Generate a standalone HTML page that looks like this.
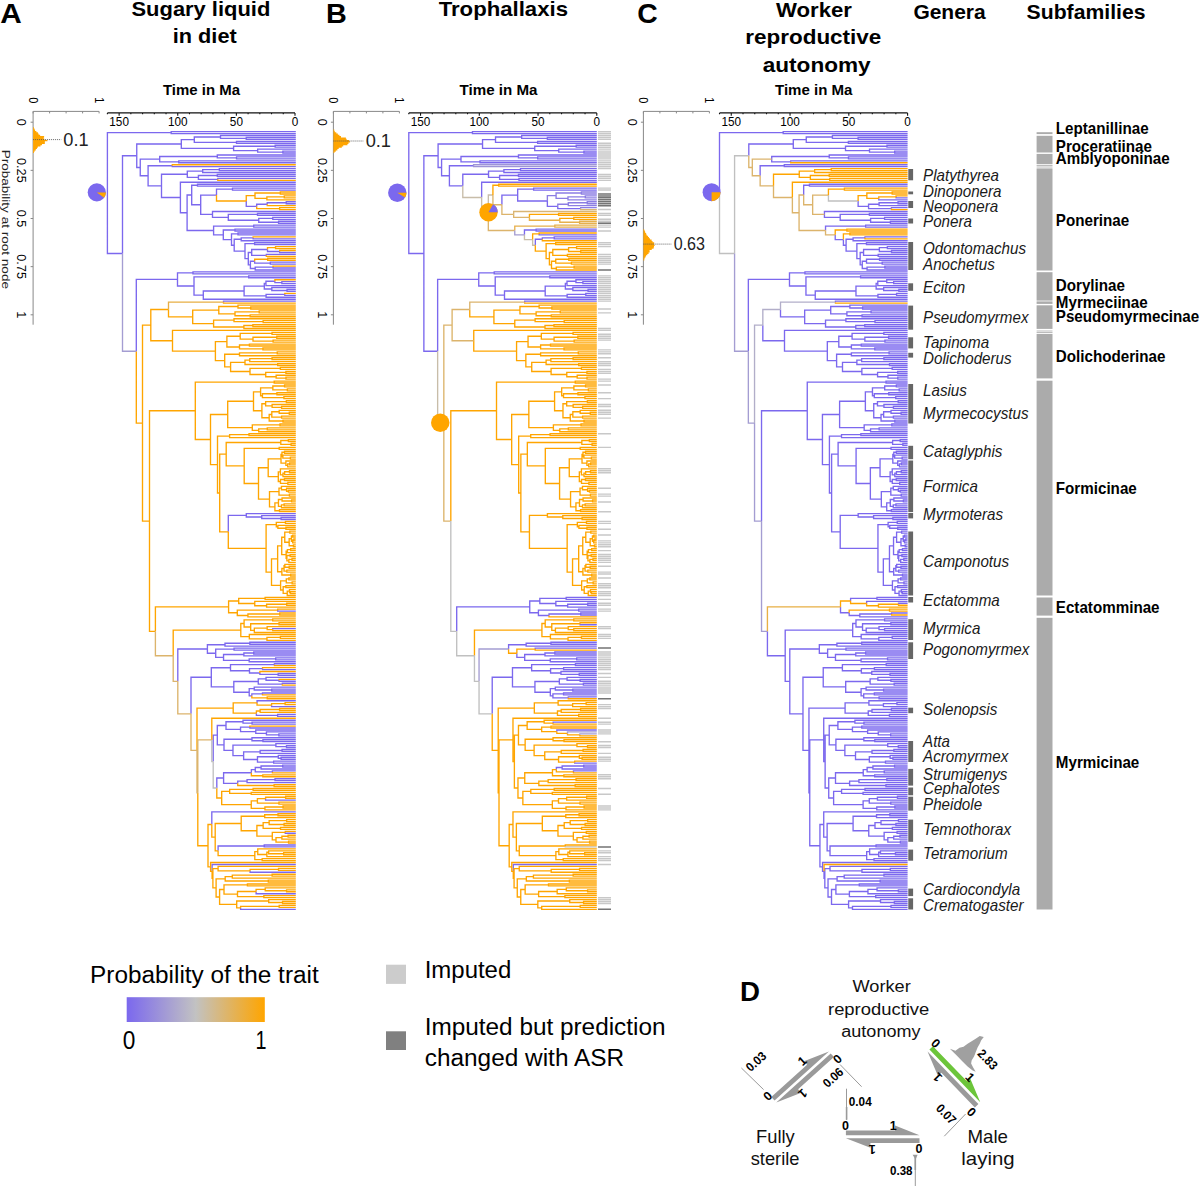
<!DOCTYPE html>
<html><head><meta charset="utf-8"><title>Figure</title>
<style>html,body{margin:0;padding:0;background:#fff;}svg{display:block;}text{font-family:"Liberation Sans",sans-serif;}</style>
</head><body>
<svg width="1200" height="1186" viewBox="0 0 1200 1186">
<rect width="1200" height="1186" fill="#fff"/>
<g font-family="Liberation Sans, sans-serif">
<text x="0.3" y="23" font-size="28.5" font-weight="bold" textLength="21.5" lengthAdjust="spacingAndGlyphs">A</text>
<text x="325.9" y="23" font-size="28.5" font-weight="bold" textLength="20.8" lengthAdjust="spacingAndGlyphs">B</text>
<text x="637.3" y="23" font-size="28.5" font-weight="bold" textLength="20.5" lengthAdjust="spacingAndGlyphs">C</text>
<text x="131.5" y="16.1" font-size="20.5" font-weight="bold" textLength="138.8" lengthAdjust="spacingAndGlyphs">Sugary liquid</text>
<text x="172.8" y="43.3" font-size="20.5" font-weight="bold" textLength="63.9" lengthAdjust="spacingAndGlyphs">in diet</text>
<text x="438.7" y="16.3" font-size="20.5" font-weight="bold" textLength="129.3" lengthAdjust="spacingAndGlyphs">Trophallaxis</text>
<text x="776" y="16.5" font-size="20.5" font-weight="bold" textLength="76" lengthAdjust="spacingAndGlyphs">Worker</text>
<text x="745.3" y="44" font-size="20.5" font-weight="bold" textLength="136" lengthAdjust="spacingAndGlyphs">reproductive</text>
<text x="762.7" y="71.5" font-size="20.5" font-weight="bold" textLength="108" lengthAdjust="spacingAndGlyphs">autonomy</text>
<text x="913.4" y="19.2" font-size="20.5" font-weight="bold" textLength="72.3" lengthAdjust="spacingAndGlyphs">Genera</text>
<text x="1026.6" y="19.2" font-size="20.5" font-weight="bold" textLength="118.9" lengthAdjust="spacingAndGlyphs">Subfamilies</text>
<path stroke="#111" stroke-width="1.2" fill="none" d="M107.4 112.9H295"/>
<path stroke="#111" stroke-width="1.1" fill="none" d="M295 112.9v2.8M283.27 112.9v1.4M271.55 112.9v1.4M259.82 112.9v1.4M248.1 112.9v1.4M236.38 112.9v2.8M224.65 112.9v1.4M212.93 112.9v1.4M201.2 112.9v1.4M189.48 112.9v1.4M177.75 112.9v2.8M166.03 112.9v1.4M154.3 112.9v1.4M142.58 112.9v1.4M130.85 112.9v1.4M119.13 112.9v2.8M107.4 112.9v1.4"/>
<text x="119.13" y="126.2" font-size="12.8" text-anchor="middle" textLength="19.65" lengthAdjust="spacingAndGlyphs">150</text>
<text x="177.75" y="126.2" font-size="12.8" text-anchor="middle" textLength="19.65" lengthAdjust="spacingAndGlyphs">100</text>
<text x="236.38" y="126.2" font-size="12.8" text-anchor="middle" textLength="13.1" lengthAdjust="spacingAndGlyphs">50</text>
<text x="295" y="126.2" font-size="12.8" text-anchor="middle" textLength="6.55" lengthAdjust="spacingAndGlyphs">0</text>
<text x="163" y="95.3" font-size="15.2" font-weight="bold" textLength="77" lengthAdjust="spacingAndGlyphs">Time in Ma</text>
<path stroke="#111" stroke-width="1.2" fill="none" d="M408.8 112.9H596.8"/>
<path stroke="#111" stroke-width="1.1" fill="none" d="M596.8 112.9v2.8M585.05 112.9v1.4M573.3 112.9v1.4M561.55 112.9v1.4M549.8 112.9v1.4M538.05 112.9v2.8M526.3 112.9v1.4M514.55 112.9v1.4M502.8 112.9v1.4M491.05 112.9v1.4M479.3 112.9v2.8M467.55 112.9v1.4M455.8 112.9v1.4M444.05 112.9v1.4M432.3 112.9v1.4M420.55 112.9v2.8M408.8 112.9v1.4"/>
<text x="420.55" y="126.2" font-size="12.8" text-anchor="middle" textLength="19.65" lengthAdjust="spacingAndGlyphs">150</text>
<text x="479.3" y="126.2" font-size="12.8" text-anchor="middle" textLength="19.65" lengthAdjust="spacingAndGlyphs">100</text>
<text x="538.05" y="126.2" font-size="12.8" text-anchor="middle" textLength="13.1" lengthAdjust="spacingAndGlyphs">50</text>
<text x="596.8" y="126.2" font-size="12.8" text-anchor="middle" textLength="6.55" lengthAdjust="spacingAndGlyphs">0</text>
<text x="459.5" y="95.3" font-size="15.2" font-weight="bold" textLength="78" lengthAdjust="spacingAndGlyphs">Time in Ma</text>
<path stroke="#111" stroke-width="1.2" fill="none" d="M719.5 112.9H907.6"/>
<path stroke="#111" stroke-width="1.1" fill="none" d="M907.6 112.9v2.8M895.84 112.9v1.4M884.09 112.9v1.4M872.33 112.9v1.4M860.58 112.9v1.4M848.82 112.9v2.8M837.06 112.9v1.4M825.31 112.9v1.4M813.55 112.9v1.4M801.79 112.9v1.4M790.04 112.9v2.8M778.28 112.9v1.4M766.52 112.9v1.4M754.77 112.9v1.4M743.01 112.9v1.4M731.26 112.9v2.8M719.5 112.9v1.4"/>
<text x="731.26" y="126.2" font-size="12.8" text-anchor="middle" textLength="19.65" lengthAdjust="spacingAndGlyphs">150</text>
<text x="790.04" y="126.2" font-size="12.8" text-anchor="middle" textLength="19.65" lengthAdjust="spacingAndGlyphs">100</text>
<text x="848.82" y="126.2" font-size="12.8" text-anchor="middle" textLength="13.1" lengthAdjust="spacingAndGlyphs">50</text>
<text x="907.6" y="126.2" font-size="12.8" text-anchor="middle" textLength="6.55" lengthAdjust="spacingAndGlyphs">0</text>
<text x="775" y="95.3" font-size="15.2" font-weight="bold" textLength="77.5" lengthAdjust="spacingAndGlyphs">Time in Ma</text>
<path stroke="#888" stroke-width="1" fill="none" d="M33.1 111.4H99.1M33.1 111.4V324.7"/>
<path stroke="#888" stroke-width="1" fill="none" d="M33.1 111.4v2M49.6 111.4v2M66.1 111.4v2M82.6 111.4v2M99.1 111.4v2M33.1 122.2h-2.5M33.1 170.35h-2.5M33.1 218.5h-2.5M33.1 266.65h-2.5M33.1 314.8h-2.5"/>
<text x="17.4" y="122.2" font-size="13" text-anchor="middle" textLength="7.08" lengthAdjust="spacingAndGlyphs" transform="rotate(90 17.4 122.2)">0</text>
<text x="17.4" y="170.35" font-size="13" text-anchor="middle" textLength="24.79" lengthAdjust="spacingAndGlyphs" transform="rotate(90 17.4 170.35)">0.25</text>
<text x="17.4" y="218.5" font-size="13" text-anchor="middle" textLength="17.71" lengthAdjust="spacingAndGlyphs" transform="rotate(90 17.4 218.5)">0.5</text>
<text x="17.4" y="266.65" font-size="13" text-anchor="middle" textLength="24.79" lengthAdjust="spacingAndGlyphs" transform="rotate(90 17.4 266.65)">0.75</text>
<text x="17.4" y="314.8" font-size="13" text-anchor="middle" textLength="7.08" lengthAdjust="spacingAndGlyphs" transform="rotate(90 17.4 314.8)">1</text>
<text x="28.8" y="100.3" font-size="13" text-anchor="middle" textLength="6.14" lengthAdjust="spacingAndGlyphs" transform="rotate(90 28.8 100.3)">0</text>
<text x="94.8" y="100.3" font-size="13" text-anchor="middle" textLength="6.14" lengthAdjust="spacingAndGlyphs" transform="rotate(90 94.8 100.3)">1</text>
<path fill="#FFA500" d="M33.1 127h0.65v1.3h-0.65zM33.1 128.3h1.25v1.3h-1.25zM33.1 129.6h1.96v1.3h-1.96zM33.1 130.9h3.27v1.3h-3.27zM33.1 132.2h4.8v1.3h-4.8zM33.1 133.5h5.53v1.3h-5.53zM33.1 134.8h7.03v1.3h-7.03zM33.1 136.1h11.02v1.3h-11.02zM33.1 137.4h10.62v1.3h-10.62zM33.1 138.7h11.34v1.3h-11.34zM33.1 140h14.32v1.3h-14.32zM33.1 141.3h11.76v1.3h-11.76zM33.1 142.6h11.69v1.3h-11.69zM33.1 143.9h8.87v1.3h-8.87zM33.1 145.2h7.37v1.3h-7.37zM33.1 146.5h4.72v1.3h-4.72zM33.1 147.8h3.84v1.3h-3.84zM33.1 149.1h2.7v1.3h-2.7zM33.1 150.4h1.52v1.3h-1.52zM33.1 151.7h0.94v1.3h-0.94z"/>
<path stroke="#555" stroke-width="0.9" stroke-dasharray="1 1" d="M33.1 139.6H61.3"/>
<text x="63.3" y="145.9" font-size="17.5" textLength="25.3" lengthAdjust="spacingAndGlyphs" fill="#222">0.1</text>
<path stroke="#888" stroke-width="1" fill="none" d="M333.4 111.4H399.4M333.4 111.4V324.7"/>
<path stroke="#888" stroke-width="1" fill="none" d="M333.4 111.4v2M349.9 111.4v2M366.4 111.4v2M382.9 111.4v2M399.4 111.4v2M333.4 122.2h-2.5M333.4 170.35h-2.5M333.4 218.5h-2.5M333.4 266.65h-2.5M333.4 314.8h-2.5"/>
<text x="317.7" y="122.2" font-size="13" text-anchor="middle" textLength="7.08" lengthAdjust="spacingAndGlyphs" transform="rotate(90 317.7 122.2)">0</text>
<text x="317.7" y="170.35" font-size="13" text-anchor="middle" textLength="24.79" lengthAdjust="spacingAndGlyphs" transform="rotate(90 317.7 170.35)">0.25</text>
<text x="317.7" y="218.5" font-size="13" text-anchor="middle" textLength="17.71" lengthAdjust="spacingAndGlyphs" transform="rotate(90 317.7 218.5)">0.5</text>
<text x="317.7" y="266.65" font-size="13" text-anchor="middle" textLength="24.79" lengthAdjust="spacingAndGlyphs" transform="rotate(90 317.7 266.65)">0.75</text>
<text x="317.7" y="314.8" font-size="13" text-anchor="middle" textLength="7.08" lengthAdjust="spacingAndGlyphs" transform="rotate(90 317.7 314.8)">1</text>
<text x="329.1" y="100.3" font-size="13" text-anchor="middle" textLength="6.14" lengthAdjust="spacingAndGlyphs" transform="rotate(90 329.1 100.3)">0</text>
<text x="395.1" y="100.3" font-size="13" text-anchor="middle" textLength="6.14" lengthAdjust="spacingAndGlyphs" transform="rotate(90 395.1 100.3)">1</text>
<path fill="#FFA500" d="M333.4 129.6h0.89v1.3h-0.89zM333.4 130.9h1.36v1.3h-1.36zM333.4 132.2h2.91v1.3h-2.91zM333.4 133.5h4.43v1.3h-4.43zM333.4 134.8h6.02v1.3h-6.02zM333.4 136.1h7.57v1.3h-7.57zM333.4 137.4h12.49v1.3h-12.49zM333.4 138.7h13.23v1.3h-13.23zM333.4 140h15.63v1.3h-15.63zM333.4 141.3h16.67v1.3h-16.67zM333.4 142.6h15.08v1.3h-15.08zM333.4 143.9h14.02v1.3h-14.02zM333.4 145.2h9.83v1.3h-9.83zM333.4 146.5h8.37v1.3h-8.37zM333.4 147.8h5.29v1.3h-5.29zM333.4 149.1h3.96v1.3h-3.96zM333.4 150.4h2.36v1.3h-2.36zM333.4 151.7h1.04v1.3h-1.04z"/>
<path stroke="#555" stroke-width="0.9" stroke-dasharray="1 1" d="M333.4 141H363.7"/>
<text x="365.7" y="147.3" font-size="17.5" textLength="25.3" lengthAdjust="spacingAndGlyphs" fill="#222">0.1</text>
<path stroke="#888" stroke-width="1" fill="none" d="M643.4 111.4H709.4M643.4 111.4V324.7"/>
<path stroke="#888" stroke-width="1" fill="none" d="M643.4 111.4v2M659.9 111.4v2M676.4 111.4v2M692.9 111.4v2M709.4 111.4v2M643.4 122.2h-2.5M643.4 170.35h-2.5M643.4 218.5h-2.5M643.4 266.65h-2.5M643.4 314.8h-2.5"/>
<text x="627.7" y="122.2" font-size="13" text-anchor="middle" textLength="7.08" lengthAdjust="spacingAndGlyphs" transform="rotate(90 627.7 122.2)">0</text>
<text x="627.7" y="170.35" font-size="13" text-anchor="middle" textLength="24.79" lengthAdjust="spacingAndGlyphs" transform="rotate(90 627.7 170.35)">0.25</text>
<text x="627.7" y="218.5" font-size="13" text-anchor="middle" textLength="17.71" lengthAdjust="spacingAndGlyphs" transform="rotate(90 627.7 218.5)">0.5</text>
<text x="627.7" y="266.65" font-size="13" text-anchor="middle" textLength="24.79" lengthAdjust="spacingAndGlyphs" transform="rotate(90 627.7 266.65)">0.75</text>
<text x="627.7" y="314.8" font-size="13" text-anchor="middle" textLength="7.08" lengthAdjust="spacingAndGlyphs" transform="rotate(90 627.7 314.8)">1</text>
<text x="639.1" y="100.3" font-size="13" text-anchor="middle" textLength="6.14" lengthAdjust="spacingAndGlyphs" transform="rotate(90 639.1 100.3)">0</text>
<text x="705.1" y="100.3" font-size="13" text-anchor="middle" textLength="6.14" lengthAdjust="spacingAndGlyphs" transform="rotate(90 705.1 100.3)">1</text>
<path fill="#FFA500" d="M643.4 229.2h0.8v1.3h-0.8zM643.4 230.5h1.5v1.3h-1.5zM643.4 231.8h1.86v1.3h-1.86zM643.4 233.1h2.75v1.3h-2.75zM643.4 234.4h3.35v1.3h-3.35zM643.4 235.7h4.62v1.3h-4.62zM643.4 237h5.55v1.3h-5.55zM643.4 238.3h6.6v1.3h-6.6zM643.4 239.6h8.21v1.3h-8.21zM643.4 240.9h9.16v1.3h-9.16zM643.4 242.2h10.78v1.3h-10.78zM643.4 243.5h10.5v1.3h-10.5zM643.4 244.8h11.23v1.3h-11.23zM643.4 246.1h10.59v1.3h-10.59zM643.4 247.4h10.18v1.3h-10.18zM643.4 248.7h8.34v1.3h-8.34zM643.4 250h6.14v1.3h-6.14zM643.4 251.3h6.27v1.3h-6.27zM643.4 252.6h5.16v1.3h-5.16zM643.4 253.9h3.91v1.3h-3.91zM643.4 255.2h2.64v1.3h-2.64zM643.4 256.5h1.97v1.3h-1.97zM643.4 257.8h1.16v1.3h-1.16zM643.4 259.1h0.93v1.3h-0.93z"/>
<path stroke="#555" stroke-width="0.9" stroke-dasharray="1 1" d="M643.4 244.1H671.7"/>
<text x="673.7" y="250.4" font-size="17.5" textLength="31.3" lengthAdjust="spacingAndGlyphs" fill="#222">0.63</text>
<text x="2.3" y="219.3" font-size="11.2" text-anchor="middle" textLength="139.3" lengthAdjust="spacingAndGlyphs" fill="#222" transform="rotate(90 2.3 219.3)">Probability at root node</text>
<filter id="tb" filterUnits="userSpaceOnUse" x="90" y="100" width="840" height="830"><feGaussianBlur stdDeviation="0.4"/></filter>
<g fill="none" stroke-width="1.35" stroke-linejoin="miter" filter="url(#tb)">
<path stroke="#7b68ee" d="M107.4 193.04V132.57H171.2M171.2 132.57V131.6H295.8M171.2 132.57V133.55H295.8M107.4 193.04V253.5H122.5M122.5 253.5V155.74H136.75M136.75 155.74V144.03H181.3M181.3 144.03V139.64H194.3M194.3 139.64V136.96H220.5M220.5 136.96V135.5H295.8M220.5 136.96V138.42H246.25M246.25 138.42V137.45H295.8M246.25 138.42V139.4H295.8M194.3 139.64V142.32H236.5M236.5 142.32V141.35H295.8M236.5 142.32V143.29H295.8M181.3 144.03V148.41H233.6M233.6 148.41V146.22H275.16M275.16 146.22V145.24H295.8M275.16 146.22V147.19H295.8M233.6 148.41V150.6H257.66M257.66 150.6V149.14H295.8M257.66 150.6V152.07H282.89M282.89 152.07V151.09H295.8M282.89 152.07V153.04H295.8M136.75 155.74V167.46H140.25M140.25 167.46V159.13H159.7M159.7 159.13V156.45H217.3M217.3 156.45V154.99H295.8M217.3 156.45V157.91H236.55M236.55 157.91V156.94H295.8M236.55 157.91V158.89H295.8M159.7 159.13V161.81H178.75M178.75 161.81V160.84H295.8M178.75 161.81V162.79H295.8M140.25 167.46V175.79H148.1M148.1 175.79V165.71H172.3M172.3 165.71V166.68H295.8M148.1 175.79V185.87H161.5M161.5 185.87V174.24H187.3M187.3 174.24V171.07H202.7M202.7 171.07V169.61H219.34M219.34 169.61V168.63H295.8M219.34 169.61V170.58H295.8M202.7 171.07V172.53H295.8M187.3 174.24V177.4H198.4M198.4 177.4V175.46H217.3M217.3 175.46V174.48H295.8M217.3 175.46V176.43H295.8M198.4 177.4V179.35H217.8M217.8 179.35V178.38H295.8M161.5 185.87V197.5H180.4M180.4 197.5V182.28H295.8M180.4 197.5V212.72H187.1M187.1 212.72V194.98H191.7M191.7 194.98V185.2H197.5M197.5 185.2V184.23H295.8M197.5 185.2V186.18H295.8M191.7 194.98V204.75H200.7M200.7 204.75V195.07H216.5M216.5 195.07V189.1H232.5M232.5 189.1V188.12H295.8M232.5 189.1V190.07H295.8M246.25 201.04V206.4H256.7M256.7 206.4V204.2H267.24M267.24 204.2V202.74H286.25M286.25 202.74V201.77H295.8M286.25 202.74V203.72H295.8M200.7 204.75V214.44H212.5M212.5 214.44V211.51H295.8M212.5 214.44V217.36H228.3M228.3 217.36V214.44H257.5M257.5 214.44V213.46H295.8M257.5 214.44V215.41H295.8M228.3 217.36V220.29H258.75M258.75 220.29V218.34H272.75M272.75 218.34V217.36H295.8M272.75 218.34V219.31H295.8M258.75 220.29V222.23H278.58M278.58 222.23V221.26H295.8M278.58 222.23V223.21H295.8M187.1 212.72V230.47H213.6M213.6 230.47V226.13H253.75M253.75 226.13V225.16H295.8M253.75 226.13V227.11H295.8M213.6 230.47V234.8H223.3M223.3 234.8V230.03H235M235 230.03V229.06H295.8M235 230.03V231.01H295.8M223.3 234.8V239.58H231.5M231.5 239.58V233.93H238M238 233.93V232.95H295.8M238 233.93V234.9H295.8M231.5 239.58V245.23H234.2M234.2 245.23V239.29H241.2M241.2 239.29V237.83H253.14M253.14 237.83V238.8H295.8M241.2 239.29V240.75H295.8M234.2 245.23V251.17H245M245 251.17V243.67H254.6M254.6 243.67V242.7H295.8M254.6 243.67V244.65H295.8M245 251.17V258.66H248.3M248.3 258.66V252.45H251.7M251.7 252.45V249.52H267.52M267.52 249.52V251.47H279.71M279.71 251.47V252.45H295.8M251.7 252.45V255.37H266.36M266.36 255.37V254.39H295.8M248.3 258.66V264.87H250.4M250.4 264.87V261.22H254.65M254.65 261.22V263.17H270.33M270.33 263.17V262.19H295.8M270.33 263.17V264.14H295.8M250.4 264.87V268.53H255.21M255.21 268.53V267.06H273.04M273.04 267.06V268.04H295.8M255.21 268.53V269.99H295.8M136.3 351.27V279.44H177.5M177.5 279.44V272.91H193M193 272.91V271.94H295.8M193 272.91V273.89H295.8M177.5 279.44V285.96H194M194 285.96V276.81H248.7M248.7 276.81V275.84H295.8M248.7 276.81V277.78H295.8M194 285.96V295.11H203.3M203.3 295.11V291H244.1M244.1 291V286.19H264.3M264.3 286.19V283.39H265.95M265.95 283.39V281.2H274.92M274.92 281.2V282.66H281.86M281.86 282.66V281.68H295.8M281.86 282.66V283.63H295.8M265.95 283.39V285.58H295.8M264.3 286.19V288.99H271.81M271.81 288.99V287.53H295.8M271.81 288.99V290.45H287.06M287.06 290.45V289.48H295.8M287.06 290.45V291.43H295.8M244.1 291V295.81H266.1M266.1 295.81V294.35H284.78M284.78 294.35V295.33H295.8M266.1 295.81V297.28H295.8M203.3 295.11V299.22H295.8M223.5 302.15V301.17H295.8M228.3 531.85V515.33H246.3M246.3 515.33V513.63H295.8M246.3 515.33V517.04H261.74M261.74 517.04V515.58H295.8M261.74 517.04V518.5H281.07M281.07 518.5V517.53H295.8M281.07 518.5V519.48H295.8M277.67 610.11V611.08H295.8M272.74 629.6V628.63H295.8M177.8 681.42V648.97H207.4M207.4 648.97V644.71H225M225 644.71V643.24H249.85M249.85 643.24V642.27H295.8M249.85 643.24V644.22H295.8M225 644.71V646.17H295.8M207.4 648.97V653.23H215.7M215.7 653.23V649.09H234.05M234.05 649.09V648.12H295.8M234.05 649.09V650.07H295.8M215.7 653.23V657.38H223.55M223.55 657.38V654.45H243.88M243.88 654.45V652.99H253.76M253.76 652.99V652.02H295.8M253.76 652.99V653.96H295.8M243.88 654.45V655.91H295.8M223.55 657.38V660.3H249.18M249.18 660.3V658.84H275.7M275.7 658.84V657.86H295.8M275.7 658.84V659.81H295.8M249.18 660.3V661.76H295.8M191 713.87V677.29H211.3M211.3 677.29V667.73H230.5M230.5 667.73V664.69H274.4M274.4 664.69V663.71H295.8M230.5 667.73V670.78H249.49M249.49 670.78V668.58H262.56M262.56 668.58V669.56H295.8M249.49 670.78V672.97H259.91M259.91 672.97V674.43H278.18M278.18 674.43V673.46H295.8M278.18 674.43V675.41H295.8M211.3 677.29V686.86H233.8M233.8 686.86V681.5H258.27M258.27 681.5V678.82H266.04M266.04 678.82V677.35H295.8M266.04 678.82V680.28H279.1M279.1 680.28V681.25H295.8M258.27 681.5V684.18H282.35M282.35 684.18V683.2H295.8M233.8 686.86V692.22H249.22M249.22 692.22V688.56H254.25M254.25 688.56V687.1H295.8M254.25 688.56V690.02H271.75M271.75 690.02V689.05H295.8M271.75 690.02V691H295.8M249.22 692.22V695.87H251.84M251.84 695.87V693.92H262.49M262.49 693.92V692.95H295.8M257.05 702.94V700.74H295.8M271.59 705.13V706.59H295.8M256.39 713.17V715.36H277.62M277.62 715.36V714.39H295.8M277.62 715.36V716.34H295.8M213.2 761.6V735.17H217.3M217.3 735.17V725.53H226M226 725.53V721.7H243.03M243.03 721.7V720.24H295.8M243.03 721.7V723.16H252.05M252.05 723.16V722.18H295.8M252.05 723.16V724.13H295.8M226 725.53V729.37H240.55M240.55 729.37V727.06H249.88M249.88 727.06V728.03H295.8M240.55 729.37V731.69H255.76M255.76 731.69V729.98H295.8M255.76 731.69V733.39H266.43M266.43 733.39V731.93H295.8M266.43 733.39V734.85H278.87M278.87 734.85V733.88H295.8M278.87 734.85V735.83H295.8M217.3 735.17V744.81H224M224 744.81V739.24H251.97M251.97 739.24V737.78H295.8M251.97 739.24V740.7H262.95M262.95 740.7V739.73H295.8M262.95 740.7V741.68H295.8M224 744.81V750.39H232.97M232.97 750.39V745.09H275.9M275.9 745.09V743.62H295.8M275.9 745.09V746.55H286.5M286.5 746.55V745.57H295.8M286.5 746.55V747.52H295.8M232.97 750.39V755.68H243.63M243.63 755.68V751.91H260.16M260.16 751.91V750.45H282.07M282.07 750.45V749.47H295.8M282.07 750.45V751.42H295.8M260.16 751.91V753.37H295.8M243.63 755.68V759.46H257.48M257.48 759.46V756.78H278.33M278.33 756.78V755.32H295.8M278.33 756.78V758.24H281.1M281.1 758.24V757.27H295.8M281.1 758.24V759.22H295.8M257.48 759.46V762.14H273.64M273.64 762.14V761.17H295.8M273.64 762.14V763.12H295.8M216.8 788.03V778.04H223.6M223.6 778.04V772.74H251.37M251.37 772.74V769.69H255.28M255.28 769.69V767.5H261.08M261.08 767.5V766.04H282.72M282.72 766.04V765.06H295.8M282.72 766.04V767.01H295.8M261.08 767.5V768.96H295.8M255.28 769.69V771.89H272.4M272.4 771.89V770.91H295.8M223.6 778.04V783.34H237.72M237.72 783.34V781.15H247.07M247.07 781.15V779.68H275.02M275.02 779.68V778.71H295.8M275.02 779.68V780.66H295.8M247.07 781.15V782.61H295.8M265.57 798.69V800.15H295.8M211.8 824.5V811.84H295.8M285.27 832.31V833.28H295.8M218.1 850.8V845.95H264.2M264.2 845.95V844.98H295.8M264.2 845.95V846.93H295.8M212.1 871.36V864.47H295.8M250.1 870.8V872.27H295.8M256.1 891.51V893.71H295.8M240.6 907.84V909.3H295.8"/>
<path stroke="#ffa500" d="M172.3 165.71V164.74H295.8M217.8 179.35V180.33H295.8M216.5 195.07V201.04H246.25M246.25 201.04V195.68H255M255 195.68V193H280.32M280.32 193V192.02H295.8M280.32 193V193.97H295.8M255 195.68V198.36H266.91M266.91 198.36V196.9H284.26M284.26 196.9V195.92H295.8M284.26 196.9V197.87H295.8M266.91 198.36V199.82H295.8M267.24 204.2V205.67H295.8M256.7 206.4V208.59H279.64M279.64 208.59V207.62H295.8M279.64 208.59V209.56H295.8M253.14 237.83V236.85H295.8M267.52 249.52V247.57H275.54M275.54 247.57V246.6H295.8M275.54 247.57V248.55H295.8M279.71 251.47V250.5H295.8M266.36 255.37V256.34H295.8M254.65 261.22V259.27H267.72M267.72 259.27V258.29H295.8M267.72 259.27V260.24H295.8M273.04 267.06V266.09H295.8M274.92 281.2V279.73H295.8M284.78 294.35V293.38H295.8M136.3 351.27V423.09H142.5M142.5 423.09V325.14H150.8M150.8 325.14V309.52H168.5M223.5 302.15V303.12H295.8M168.5 309.52V316.89H192.7M192.7 316.89V310.19H218.8M218.8 310.19V306.53H238M238 306.53V305.07H295.8M238 306.53V308H250.76M250.76 308V307.02H295.8M250.76 308V308.97H295.8M218.8 310.19V313.84H235M235 313.84V311.89H259.19M259.19 311.89V310.92H295.8M259.19 311.89V312.87H295.8M235 313.84V315.79H250.16M250.16 315.79V314.82H295.8M250.16 315.79V316.77H295.8M192.7 316.89V323.59H213.6M213.6 323.59V320.18H234M234 320.18V318.72H295.8M234 320.18V321.64H263.14M263.14 321.64V320.66H295.8M263.14 321.64V322.61H295.8M213.6 323.59V327H243.9M243.9 327V325.54H252.89M252.89 325.54V324.56H295.8M252.89 325.54V326.51H295.8M243.9 327V328.46H295.8M150.8 325.14V340.76H172.5M172.5 340.76V330.41H295.8M172.5 340.76V351.1H215.4M215.4 351.1V341.62H226.9M226.9 341.62V336.26H240.2M240.2 336.26V333.33H272.03M272.03 333.33V332.36H295.8M272.03 333.33V334.31H295.8M240.2 336.26V339.18H253M253 339.18V337.23H276.78M276.78 337.23V336.26H295.8M276.78 337.23V338.21H295.8M253 339.18V341.13H273.1M273.1 341.13V340.16H295.8M273.1 341.13V342.11H295.8M226.9 341.62V346.98H239.5M239.5 346.98V345.03H249.4M249.4 345.03V344.05H295.8M249.4 345.03V346H295.8M239.5 346.98V348.93H262.95M262.95 348.93V347.95H295.8M262.95 348.93V349.9H295.8M215.4 351.1V360.59H224.7M224.7 360.59V354.29H239.5M239.5 354.29V352.83H277.24M277.24 352.83V351.85H295.8M277.24 352.83V353.8H295.8M239.5 354.29V355.75H295.8M224.7 360.59V366.9H230.6M230.6 366.9V362.33H245M245 362.33V360.13H249.77M249.77 360.13V358.67H272.06M272.06 358.67V357.7H295.8M272.06 358.67V359.65H295.8M249.77 360.13V361.6H295.8M245 362.33V364.52H277.67M277.67 364.52V363.55H295.8M277.67 364.52V365.49H295.8M230.6 366.9V371.46H250M250 371.46V368.42H280.36M280.36 368.42V367.44H295.8M280.36 368.42V369.39H295.8M250 371.46V374.51H265.72M265.72 374.51V372.32H285.91M285.91 372.32V371.34H295.8M285.91 372.32V373.29H295.8M265.72 374.51V376.7H276.16M276.16 376.7V375.24H295.8M276.16 376.7V378.16H285.98M285.98 378.16V377.19H295.8M285.98 378.16V379.14H295.8M142.5 423.09V521.05H149.5M149.5 521.05V410.79H195.3M195.3 410.79V382.06H274.2M274.2 382.06V381.09H295.8M274.2 382.06V383.04H295.8M195.3 410.79V439.52H210.5M210.5 439.52V414.45H227.7M227.7 414.45V401.28H253.5M253.5 401.28V391.81H260.6M260.6 391.81V387.91H272.85M272.85 387.91V385.96H284.53M284.53 385.96V384.99H295.8M284.53 385.96V386.94H295.8M272.85 387.91V389.86H287.36M287.36 389.86V388.88H295.8M287.36 389.86V390.83H295.8M260.6 391.81V395.71H262.44M262.44 395.71V393.76H276.92M276.92 393.76V392.78H295.8M276.92 393.76V394.73H295.8M262.44 395.71V397.66H283.92M283.92 397.66V396.68H295.8M283.92 397.66V398.63H295.8M253.5 401.28V410.75H261.9M261.9 410.75V403.75H265.63M265.63 403.75V401.55H286.36M286.36 401.55V400.58H295.8M286.36 401.55V402.53H295.8M265.63 403.75V405.94H272.12M272.12 405.94V404.48H295.8M272.12 405.94V407.4H281.62M281.62 407.4V406.43H295.8M281.62 407.4V408.38H295.8M261.9 410.75V417.76H269.19M269.19 417.76V414.47H271.8M271.8 414.47V411.79H279.2M279.2 411.79V410.32H295.8M279.2 411.79V413.25H289.3M289.3 413.25V412.27H295.8M289.3 413.25V414.22H295.8M271.8 414.47V417.15H281.57M281.57 417.15V416.17H295.8M281.57 417.15V418.12H295.8M269.19 417.76V421.04H282.99M282.99 421.04V420.07H295.8M282.99 421.04V422.02H295.8M227.7 414.45V427.62H252.3M252.3 427.62V424.94H280M280 424.94V423.97H295.8M280 424.94V425.92H295.8M252.3 427.62V430.3H258.7M258.7 430.3V428.84H267.27M267.27 428.84V427.87H295.8M267.27 428.84V429.82H295.8M258.7 430.3V431.76H295.8M210.5 439.52V464.59H217.5M217.5 464.59V436.15H229.6M229.6 436.15V434.69H249M249 434.69V433.71H295.8M249 434.69V435.66H295.8M229.6 436.15V437.61H295.8M217.5 464.59V493.02H219.7M219.7 493.02V454.19H226.2M226.2 454.19V442.49H280.8M280.8 442.49V440.54H288.37M288.37 440.54V439.56H295.8M288.37 440.54V441.51H295.8M280.8 442.49V444.43H291.07M291.07 444.43V443.46H295.8M291.07 444.43V445.41H295.8M226.2 454.19V465.9H244.2M244.2 465.9V448.33H279.2M279.2 448.33V447.36H295.8M279.2 448.33V449.31H295.8M244.2 465.9V483.46H258.5M258.5 483.46V467.73H268.2M268.2 467.73V458.81H281M281 458.81V454.42H281.97M281.97 454.42V452.23H284.52M284.52 452.23V451.26H295.8M284.52 452.23V453.21H295.8M281.97 454.42V456.62H282.87M282.87 456.62V455.15H295.8M282.87 456.62V458.08H290.36M290.36 458.08V457.1H295.8M290.36 458.08V459.05H295.8M281 458.81V463.19H285.9M285.9 463.19V461H295.8M285.9 463.19V465.39H287.7M287.7 465.39V463.93H289.62M289.62 463.93V462.95H295.8M289.62 463.93V464.9H295.8M287.7 465.39V466.85H295.8M268.2 467.73V476.66H278.3M278.3 476.66V471.84H280.4M280.4 471.84V468.8H295.8M280.4 471.84V474.89H283M283 474.89V473.18H284.62M284.62 473.18V471.72H289.5M289.5 471.72V470.75H295.8M289.5 471.72V472.7H295.8M284.62 473.18V474.65H295.8M283 474.89V476.59H295.8M278.3 476.66V481.47H280.47M280.47 481.47V479.52H284.45M284.45 479.52V478.54H295.8M284.45 479.52V480.49H295.8M280.47 481.47V483.42H287.86M287.86 483.42V482.44H295.8M287.86 483.42V484.39H295.8M258.5 483.46V499.19H269.5M269.5 499.19V491.58H279M279 491.58V488.05H281.46M281.46 488.05V486.34H295.8M281.46 488.05V489.75H286.56M286.56 489.75V488.29H295.8M286.56 489.75V491.21H288.43M288.43 491.21V490.24H295.8M288.43 491.21V492.19H295.8M279 491.58V495.11H289.41M289.41 495.11V494.14H295.8M289.41 495.11V496.09H295.8M269.5 499.19V506.81H274.9M274.9 506.81V502.91H278.45M278.45 502.91V499.5H282.06M282.06 499.5V498.04H295.8M282.06 499.5V500.96H291.57M291.57 500.96V499.98H295.8M291.57 500.96V501.93H295.8M278.45 502.91V506.32H281.45M281.45 506.32V504.86H284.12M284.12 504.86V503.88H295.8M284.12 504.86V505.83H295.8M281.45 506.32V507.78H295.8M274.9 506.81V510.7H279.51M279.51 510.7V509.73H295.8M279.51 510.7V511.68H295.8M219.7 493.02V531.85H228.3M228.3 531.85V548.37H266.1M266.1 548.37V524.59H276.3M276.3 524.59V522.4H285.46M285.46 522.4V521.42H295.8M285.46 522.4V523.37H295.8M276.3 524.59V526.78H277.89M277.89 526.78V525.32H295.8M277.89 526.78V528.25H285.91M285.91 528.25V527.27H295.8M285.91 528.25V529.22H295.8M266.1 548.37V572.14H271.5M271.5 572.14V558.84H277.64M277.64 558.84V545.94H281.72M281.72 545.94V537.2H284.77M284.77 537.2V532.14H289.82M289.82 532.14V531.17H295.8M289.82 532.14V533.12H295.8M284.77 537.2V542.26H289.17M289.17 542.26V538.72H291.42M291.42 538.72V536.04H292.74M292.74 536.04V535.07H295.8M292.74 536.04V537.02H295.8M291.42 538.72V541.4H292.67M292.67 541.4V539.94H293.91M293.91 539.94V538.97H295.8M293.91 539.94V540.92H295.8M292.67 541.4V542.86H295.8M289.17 542.26V545.79H293.42M293.42 545.79V544.81H295.8M293.42 545.79V546.76H295.8M281.72 545.94V554.68H286.13M286.13 554.68V551.15H287.38M287.38 551.15V549.69H290.67M290.67 549.69V548.71H295.8M290.67 549.69V550.66H295.8M287.38 551.15V552.61H295.8M286.13 554.68V558.21H286.91M286.91 558.21V555.53H290.14M290.14 555.53V554.56H295.8M290.14 555.53V556.51H295.8M286.91 558.21V560.89H288.87M288.87 560.89V559.43H292M292 559.43V558.46H295.8M292 559.43V560.41H295.8M288.87 560.89V562.36H295.8M277.64 558.84V571.74H281.87M281.87 571.74V568.45H284.03M284.03 568.45V565.77H284.86M284.86 565.77V564.31H295.8M284.86 565.77V567.23H289.15M289.15 567.23V566.25H295.8M289.15 567.23V568.2H295.8M284.03 568.45V571.13H286.83M286.83 571.13V570.15H295.8M286.83 571.13V572.1H295.8M281.87 571.74V575.03H290.69M290.69 575.03V574.05H295.8M290.69 575.03V576H295.8M271.5 572.14V585.44H280.6M280.6 585.44V580.87H286.29M286.29 580.87V578.92H288.85M288.85 578.92V577.95H295.8M288.85 578.92V579.9H295.8M286.29 580.87V582.82H292.14M292.14 582.82V581.85H295.8M292.14 582.82V583.8H295.8M280.6 585.44V590.01H283.17M283.17 590.01V586.72H285.88M285.88 586.72V585.75H295.8M285.88 586.72V587.69H295.8M283.17 590.01V593.3H287.25M287.25 593.3V591.11H289.48M289.48 591.11V589.64H295.8M289.48 591.11V592.57H290.46M290.46 592.57V591.59H295.8M290.46 592.57V593.54H295.8M287.25 593.3V595.49H295.8M149.5 521.05V631.31H155.4M155.4 631.31V606.88H228.6M228.6 606.88V600.97H238.7M238.7 600.97V598.41H265.12M265.12 598.41V597.44H295.8M265.12 598.41V599.39H295.8M238.7 600.97V603.53H254.76M254.76 603.53V601.34H295.8M254.76 603.53V605.72H266.6M266.6 605.72V604.26H286.73M286.73 604.26V603.29H295.8M286.73 604.26V605.24H295.8M266.6 605.72V607.19H295.8M228.6 606.88V612.79H237.3M237.3 612.79V610.11H277.67M277.67 610.11V609.14H295.8M237.3 612.79V615.47H247.93M247.93 615.47V614.01H279.74M279.74 614.01V613.03H295.8M279.74 614.01V614.98H295.8M247.93 615.47V616.93H295.8M173.2 655.74V630.06H240.8M240.8 630.06V623.45H244.09M244.09 623.45V619.86H272.74M272.74 619.86V618.88H295.8M272.74 619.86V620.83H295.8M244.09 623.45V627.04H250.68M250.68 627.04V623.75H279.05M279.05 623.75V622.78H295.8M279.05 623.75V624.73H295.8M250.68 627.04V630.33H254.33M254.33 630.33V628.14H267.17M267.17 628.14V626.68H295.8M267.17 628.14V629.6H272.74M272.74 629.6V630.58H295.8M254.33 630.33V632.52H295.8M240.8 630.06V636.67H249.32M249.32 636.67V634.47H295.8M249.32 636.67V638.86H266.97M266.97 638.86V637.4H280.41M280.41 637.4V636.42H295.8M280.41 637.4V638.37H295.8M266.97 638.86V640.32H295.8M274.4 664.69V665.66H295.8M262.56 668.58V667.61H295.8M259.91 672.97V671.51H295.8M279.1 680.28V679.3H295.8M282.35 684.18V685.15H295.8M262.49 693.92V694.9H295.8M251.84 695.87V697.82H267.23M267.23 697.82V696.85H295.8M267.23 697.82V698.79H295.8M197 750.44V708.05H233.2M233.2 708.05V702.94H257.05M257.05 702.94V705.13H271.59M271.59 705.13V703.67H285.13M285.13 703.67V702.69H295.8M285.13 703.67V704.64H295.8M233.2 708.05V713.17H256.39M256.39 713.17V710.98H260.15M260.15 710.98V709.51H279.57M279.57 709.51V708.54H295.8M279.57 709.51V710.49H295.8M260.15 710.98V712.44H295.8M211.8 739.94V718.29H295.8M249.88 727.06V726.08H295.8M272.4 771.89V772.86H295.8M251.37 772.74V775.79H262.81M262.81 775.79V774.81H295.8M262.81 775.79V776.76H295.8M237.72 783.34V785.53H274.12M274.12 785.53V784.56H295.8M274.12 785.53V786.51H295.8M216.8 788.03V798.02H221.7M221.7 798.02V791.38H229.66M229.66 791.38V789.43H253.12M253.12 789.43V788.45H295.8M253.12 789.43V790.4H295.8M229.66 791.38V793.33H251.2M251.2 793.33V792.35H295.8M251.2 793.33V794.3H295.8M221.7 798.02V804.66H251.25M251.25 804.66V800.88H257.41M257.41 800.88V798.69H265.57M265.57 798.69V797.23H285.63M285.63 797.23V796.25H295.8M285.63 797.23V798.2H295.8M257.41 800.88V803.07H278.96M278.96 803.07V802.1H295.8M278.96 803.07V804.05H295.8M251.25 804.66V808.43H264.93M264.93 808.43V806.97H283.06M283.06 806.97V806H295.8M283.06 806.97V807.95H295.8M264.93 808.43V809.89H295.8M197.8 792.83V845.72H208M208 845.72V824.5H211.8M211.8 824.5V837.15H215.2M215.2 837.15V823.51H241.2M241.2 823.51V816.23H264.7M264.7 816.23V814.77H278.02M278.02 814.77V813.79H295.8M278.02 814.77V815.74H295.8M264.7 816.23V817.69H295.8M241.2 823.51V830.79H256.9M256.9 830.79V825.49H263.15M263.15 825.49V822.56H269.16M269.16 822.56V820.61H286.67M286.67 820.61V819.64H295.8M286.67 820.61V821.59H295.8M269.16 822.56V824.51H284.09M284.09 824.51V823.54H295.8M284.09 824.51V825.49H295.8M263.15 825.49V828.41H280.54M280.54 828.41V827.44H295.8M280.54 828.41V829.39H295.8M256.9 830.79V836.09H272.29M272.29 836.09V832.31H285.27M285.27 832.31V831.34H295.8M272.29 836.09V839.86H276M276 839.86V837.67H281.9M281.9 837.67V836.21H288.08M288.08 836.21V835.23H295.8M288.08 836.21V837.18H295.8M281.9 837.67V839.13H295.8M276 839.86V842.06H288.57M288.57 842.06V841.08H295.8M288.57 842.06V843.03H295.8M215.2 837.15V850.8H218.1M218.1 850.8V855.64H254.8M254.8 855.64V851.68H257.76M257.76 851.68V848.88H295.8M257.76 851.68V854.48H266.87M266.87 854.48V852.29H268.64M268.64 852.29V850.83H295.8M268.64 852.29V853.75H283.64M283.64 853.75V852.78H295.8M283.64 853.75V854.72H295.8M266.87 854.48V856.67H295.8M254.8 855.64V859.6H262.18M262.18 859.6V858.62H295.8M262.18 859.6V860.57H295.8M208 845.72V866.94H210.6M210.6 866.94V862.52H295.8M210.6 866.94V871.36H212.1M212.1 871.36V878.26H212.9M212.9 878.26V868.61H218.1M218.1 868.61V866.42H295.8M218.1 868.61V870.8H250.1M250.1 870.8V869.34H278.53M278.53 869.34V868.37H295.8M278.53 869.34V870.32H295.8M212.9 878.26V887.91H216.1M216.1 887.91V878.84H225.2M225.2 878.84V876.65H232.3M232.3 876.65V875.19H272.12M272.12 875.19V874.22H295.8M272.12 875.19V876.16H295.8M232.3 876.65V878.11H295.8M225.2 878.84V881.04H268.3M268.3 881.04V880.06H295.8M268.3 881.04V882.01H295.8M216.1 887.91V896.97H219.6M219.6 896.97V889.5H224M224 889.5V884.94H247.4M247.4 884.94V883.96H295.8M247.4 884.94V885.91H295.8M224 889.5V894.07H237.5M237.5 894.07V891.51H256.1M256.1 891.51V889.32H265.22M265.22 889.32V887.86H295.8M265.22 889.32V890.78H286.57M286.57 890.78V889.81H295.8M286.57 890.78V891.76H295.8M237.5 894.07V896.63H263.86M263.86 896.63V895.66H295.8M263.86 896.63V897.61H295.8M219.6 896.97V904.43H236.7M236.7 904.43V901.02H268.7M268.7 901.02V899.55H295.8M268.7 901.02V902.48H282.54M282.54 902.48V901.5H295.8M282.54 902.48V903.45H295.8M236.7 904.43V907.84H240.6M240.6 907.84V906.38H279.19M279.19 906.38V905.4H295.8M279.19 906.38V907.35H295.8"/>
<path stroke="#a49dd2" d="M122.5 253.5V351.27H136.3"/>
<path stroke="#e8af45" d="M168.5 309.52V302.15H223.5"/>
<path stroke="#dcb46c" d="M155.4 631.31V655.74H173.2M173.2 655.74V681.42H177.8M177.8 681.42V713.87H191M191 713.87V750.44H197M197 750.44V792.83H197.8M197.8 792.83V739.94H211.8"/>
<path stroke="#c0c0c0" d="M211.8 739.94V761.6H213.2M213.2 761.6V788.03H216.8"/>
<path stroke="#7b68ee" d="M408.8 193.04V132.57H472.46M472.46 132.57V131.6H596.8M472.46 132.57V133.55H596.8M408.8 193.04V253.5H423.87M423.87 253.5V155.74H438.09M438.09 155.74V144.03H482.54M482.54 144.03V139.64H495.52M495.52 139.64V136.96H521.66M521.66 136.96V135.5H596.8M521.66 136.96V138.42H547.36M547.36 138.42V137.45H596.8M547.36 138.42V139.4H596.8M495.52 139.64V142.32H537.63M537.63 142.32V141.35H596.8M537.63 142.32V143.29H596.8M482.54 144.03V148.41H534.73M534.73 148.41V146.22H576.2M576.2 146.22V145.24H596.8M576.2 146.22V147.19H596.8M534.73 148.41V150.6H558.74M558.74 150.6V149.14H596.8M558.74 150.6V152.07H583.92M583.92 152.07V151.09H596.8M583.92 152.07V153.04H596.8M438.09 155.74V167.46H441.58M441.58 167.46V159.13H460.99M460.99 159.13V156.45H518.47M518.47 156.45V154.99H596.8M518.47 156.45V157.91H537.68M537.68 157.91V156.94H596.8M537.68 157.91V158.89H596.8M460.99 159.13V161.81H480M480 161.81V160.84H596.8M480 161.81V162.79H596.8M441.58 167.46V175.79H449.41M449.41 175.79V165.71H473.56M449.41 175.79V185.87H462.79M462.79 185.87V174.24H488.53M488.53 174.24V171.07H503.9M503.9 171.07V169.61H520.5M520.5 169.61V168.63H596.8M520.5 169.61V170.58H596.8M503.9 171.07V172.53H596.8M488.53 174.24V177.4H499.61M499.61 177.4V175.46H518.47M518.47 175.46V174.48H596.8M518.47 175.46V176.43H596.8M499.61 177.4V179.35H518.97M518.97 179.35V178.38H596.8M518.97 179.35V180.33H596.8M481.65 197.5V182.28H596.8M501.9 204.75V195.07H517.67M517.67 195.07V189.1H533.63M533.63 189.1V188.12H596.8M533.63 189.1V190.07H596.8M517.67 195.07V201.04H547.36M547.36 201.04V206.4H557.78M557.78 206.4V208.59H580.68M524.45 234.8V230.03H536.13M536.13 230.03V229.06H596.8M536.13 230.03V231.01H596.8M539.12 233.93V234.9H596.8M535.33 245.23V239.29H542.32M542.32 239.29V237.83H554.23M554.23 237.83V236.85H596.8M554.23 237.83V238.8H596.8M423.87 253.5V351.27H437.64M437.64 351.27V279.44H478.75M478.75 279.44V272.91H494.22M494.22 272.91V271.94H596.8M494.22 272.91V273.89H596.8M478.75 279.44V285.96H495.22M495.22 285.96V276.81H549.8M549.8 276.81V275.84H596.8M549.8 276.81V277.78H596.8M495.22 285.96V295.11H504.5M504.5 295.11V291H545.21M545.21 291V286.19H565.37M565.37 286.19V283.39H567.01M567.01 283.39V281.2H575.96M575.96 281.2V279.73H596.8M575.96 281.2V282.66H582.89M582.89 282.66V281.68H596.8M582.89 282.66V283.63H596.8M567.01 283.39V285.58H596.8M565.37 286.19V288.99H572.86M572.86 288.99V287.53H596.8M572.86 288.99V290.45H588.08M588.08 290.45V289.48H596.8M588.08 290.45V291.43H596.8M545.21 291V295.81H567.16M567.16 295.81V294.35H585.8M585.8 294.35V293.38H596.8M585.8 294.35V295.33H596.8M567.16 295.81V297.28H596.8M504.5 295.11V299.22H596.8M524.65 302.15V301.17H596.8M456.7 631.31V606.88H529.74M529.74 606.88V600.97H539.82M539.82 600.97V598.41H566.18M566.18 598.41V597.44H596.8M566.18 598.41V599.39H596.8M539.82 600.97V603.53H555.85M555.85 603.53V601.34H596.8M555.85 603.53V605.72H567.66M567.66 605.72V604.26H587.75M587.75 604.26V603.29H596.8M587.75 604.26V605.24H596.8M567.66 605.72V607.19H596.8M529.74 606.88V612.79H538.42M538.42 612.79V610.11H578.71M578.71 610.11V609.14H596.8M578.71 610.11V611.08H596.8M538.42 612.79V615.47H549.03M549.03 615.47V614.01H580.78M580.78 614.01V613.03H596.8M580.78 614.01V614.98H596.8M580.08 623.75V624.73H596.8M508.59 648.97V644.71H526.15M526.15 644.71V643.24H550.95M550.95 643.24V642.27H596.8M550.95 643.24V644.22H596.8M526.15 644.71V646.17H596.8M535.18 649.09V648.12H596.8M516.87 653.23V657.38H524.71M524.71 657.38V654.45H544.99M544.99 654.45V652.99H554.85M554.85 652.99V652.02H596.8M554.85 652.99V653.96H596.8M544.99 654.45V655.91H596.8M524.71 657.38V660.3H550.28M550.28 660.3V658.84H576.74M576.74 658.84V657.86H596.8M576.74 658.84V659.81H596.8M550.28 660.3V661.76H596.8M492.22 713.87V677.29H512.48M512.48 677.29V667.73H531.64M531.64 667.73V664.69H575.45M575.45 664.69V663.71H596.8M575.45 664.69V665.66H596.8M531.64 667.73V670.78H550.59M550.59 670.78V668.58H563.63M563.63 668.58V667.61H596.8M563.63 668.58V669.56H596.8M550.59 670.78V672.97H560.98M560.98 672.97V671.51H596.8M560.98 672.97V674.43H579.22M579.22 674.43V673.46H596.8M579.22 674.43V675.41H596.8M512.48 677.29V686.86H534.93M534.93 686.86V681.5H559.35M559.35 681.5V678.82H567.1M567.1 678.82V677.35H596.8M567.1 678.82V680.28H580.14M580.14 680.28V679.3H596.8M580.14 680.28V681.25H596.8M559.35 681.5V684.18H583.37M583.37 684.18V683.2H596.8M583.37 684.18V685.15H596.8M534.93 686.86V692.22H550.32M550.32 692.22V688.56H555.34M555.34 688.56V687.1H596.8M555.34 688.56V690.02H572.81M572.81 690.02V689.05H596.8M572.81 690.02V691H596.8M550.32 692.22V695.87H552.93M552.93 695.87V693.92H563.56M563.56 693.92V692.95H596.8M563.56 693.92V694.9H596.8M552.93 695.87V697.82H568.29M568.29 697.82V696.85H596.8M553.15 723.16V722.18H596.8M556.84 731.69V729.98H596.8M574.69 762.14V763.12H596.8M556.36 769.69V767.5H562.15M562.15 767.5V766.04H583.75M583.75 766.04V765.06H596.8M583.75 766.04V767.01H596.8M562.15 767.5V768.96H596.8M573.45 771.89V770.91H596.8M513.28 871.36V864.47H596.8"/>
<path stroke="#9e94d7" d="M473.56 165.71V164.74H596.8M473.56 165.71V166.68H596.8"/>
<path stroke="#c8bda9" d="M462.79 185.87V197.5H481.65M481.65 197.5V212.72H488.33M488.33 212.72V194.98H492.92M524.45 234.8V239.58H532.64M532.64 239.58V245.23H535.33M437.64 351.27V423.09H443.83"/>
<path stroke="#ffa500" d="M492.92 194.98V185.2H498.71M498.71 185.2V184.23H596.8M498.71 185.2V186.18H596.8M529.44 217.36V214.44H558.58M558.58 214.44V213.46H596.8M558.58 214.44V215.41H596.8M559.83 220.29V218.34H573.8M573.8 218.34V217.36H596.8M573.8 218.34V219.31H596.8M532.64 239.58V233.93H539.12M539.12 233.93V232.95H596.8M542.32 239.29V240.75H596.8M535.33 245.23V251.17H546.11M546.11 251.17V243.67H555.69M555.69 243.67V242.7H596.8M555.69 243.67V244.65H596.8M546.11 251.17V258.66H549.4M549.4 258.66V252.45H552.79M552.79 252.45V249.52H568.58M568.58 249.52V247.57H576.58M576.58 247.57V246.6H596.8M576.58 247.57V248.55H596.8M568.58 249.52V251.47H580.74M580.74 251.47V250.5H596.8M580.74 251.47V252.45H596.8M552.79 252.45V255.37H567.42M567.42 255.37V254.39H596.8M567.42 255.37V256.34H596.8M549.4 258.66V264.87H551.5M551.5 264.87V261.22H555.74M555.74 261.22V259.27H568.78M568.78 259.27V258.29H596.8M568.78 259.27V260.24H596.8M555.74 261.22V263.17H571.38M571.38 263.17V262.19H596.8M571.38 263.17V264.14H596.8M551.5 264.87V268.53H556.3M556.3 268.53V267.06H574.09M574.09 267.06V266.09H596.8M574.09 267.06V268.04H596.8M556.3 268.53V269.99H596.8M524.65 302.15V303.12H596.8M469.77 309.52V316.89H493.92M493.92 316.89V310.19H519.96M519.96 310.19V306.53H539.12M539.12 306.53V305.07H596.8M539.12 306.53V308H551.85M551.85 308V307.02H596.8M551.85 308V308.97H596.8M519.96 310.19V313.84H536.13M536.13 313.84V311.89H560.26M560.26 311.89V310.92H596.8M560.26 311.89V312.87H596.8M536.13 313.84V315.79H551.26M551.26 315.79V314.82H596.8M551.26 315.79V316.77H596.8M493.92 316.89V323.59H514.77M514.77 323.59V320.18H535.13M535.13 320.18V318.72H596.8M535.13 320.18V321.64H564.21M564.21 321.64V320.66H596.8M564.21 321.64V322.61H596.8M514.77 323.59V327H545.01M545.01 327V325.54H553.98M553.98 325.54V324.56H596.8M553.98 325.54V326.51H596.8M545.01 327V328.46H596.8M473.76 340.76V330.41H596.8M473.76 340.76V351.1H516.57M516.57 351.1V341.62H528.05M528.05 341.62V336.26H541.32M541.32 336.26V333.33H573.08M573.08 333.33V332.36H596.8M573.08 333.33V334.31H596.8M541.32 336.26V339.18H554.09M554.09 339.18V337.23H577.82M577.82 337.23V336.26H596.8M577.82 337.23V338.21H596.8M554.09 339.18V341.13H574.15M574.15 341.13V340.16H596.8M574.15 341.13V342.11H596.8M528.05 341.62V346.98H540.62M540.62 346.98V345.03H550.5M550.5 345.03V344.05H596.8M550.5 345.03V346H596.8M540.62 346.98V348.93H564.02M564.02 348.93V347.95H596.8M564.02 348.93V349.9H596.8M516.57 351.1V360.59H525.85M525.85 360.59V354.29H540.62M540.62 354.29V352.83H578.28M578.28 352.83V351.85H596.8M578.28 352.83V353.8H596.8M540.62 354.29V355.75H596.8M525.85 360.59V366.9H531.74M531.74 366.9V362.33H546.11M546.11 362.33V360.13H550.87M550.87 360.13V358.67H573.11M573.11 358.67V357.7H596.8M573.11 358.67V359.65H596.8M550.87 360.13V361.6H596.8M546.11 362.33V364.52H578.71M578.71 364.52V363.55H596.8M578.71 364.52V365.49H596.8M531.74 366.9V371.46H551.1M551.1 371.46V368.42H581.4M581.4 368.42V367.44H596.8M581.4 368.42V369.39H596.8M551.1 371.46V374.51H566.78M566.78 374.51V372.32H586.93M586.93 372.32V371.34H596.8M586.93 372.32V373.29H596.8M566.78 374.51V376.7H577.2M577.2 376.7V375.24H596.8M577.2 376.7V378.16H587M587 378.16V377.19H596.8M587 378.16V379.14H596.8M450.81 521.05V410.79H496.51M496.51 410.79V382.06H575.25M575.25 382.06V381.09H596.8M575.25 382.06V383.04H596.8M496.51 410.79V439.52H511.68M511.68 439.52V414.45H528.84M528.84 414.45V401.28H554.59M554.59 401.28V391.81H561.67M561.67 391.81V387.91H573.9M573.9 387.91V385.96H585.55M585.55 385.96V384.99H596.8M585.55 385.96V386.94H596.8M573.9 387.91V389.86H588.38M588.38 389.86V388.88H596.8M588.38 389.86V390.83H596.8M561.67 391.81V395.71H563.52M563.52 395.71V393.76H577.96M577.96 393.76V392.78H596.8M577.96 393.76V394.73H596.8M563.52 395.71V397.66H584.94M584.94 397.66V396.68H596.8M584.94 397.66V398.63H596.8M554.59 401.28V410.75H562.97M562.97 410.75V403.75H566.69M566.69 403.75V401.55H587.38M587.38 401.55V400.58H596.8M587.38 401.55V402.53H596.8M566.69 403.75V405.94H573.17M573.17 405.94V404.48H596.8M573.17 405.94V407.4H582.65M582.65 407.4V406.43H596.8M582.65 407.4V408.38H596.8M562.97 410.75V417.76H570.25M570.25 417.76V414.47H572.85M572.85 414.47V411.79H580.24M580.24 411.79V410.32H596.8M580.24 411.79V413.25H590.31M590.31 413.25V412.27H596.8M590.31 413.25V414.22H596.8M572.85 414.47V417.15H582.6M582.6 417.15V416.17H596.8M582.6 417.15V418.12H596.8M570.25 417.76V421.04H584.02M584.02 421.04V420.07H596.8M584.02 421.04V422.02H596.8M528.84 414.45V427.62H553.39M553.39 427.62V424.94H581.03M581.03 424.94V423.97H596.8M581.03 424.94V425.92H596.8M553.39 427.62V430.3H559.78M559.78 430.3V428.84H568.33M568.33 428.84V427.87H596.8M568.33 428.84V429.82H596.8M559.78 430.3V431.76H596.8M511.68 439.52V464.59H518.67M518.67 464.59V436.15H530.74M530.74 436.15V434.69H550.1M550.1 434.69V433.71H596.8M550.1 434.69V435.66H596.8M530.74 436.15V437.61H596.8M518.67 464.59V493.02H520.86M520.86 493.02V454.19H527.35M527.35 454.19V442.49H581.83M581.83 442.49V440.54H589.38M589.38 440.54V439.56H596.8M589.38 440.54V441.51H596.8M581.83 442.49V444.43H592.08M592.08 444.43V443.46H596.8M592.08 444.43V445.41H596.8M527.35 454.19V465.9H545.31M545.31 465.9V448.33H580.24M580.24 448.33V447.36H596.8M580.24 448.33V449.31H596.8M545.31 465.9V483.46H559.58M559.58 483.46V467.73H569.26M569.26 467.73V458.81H582.03M582.03 458.81V454.42H582.99M582.99 454.42V452.23H585.54M585.54 452.23V451.26H596.8M585.54 452.23V453.21H596.8M582.99 454.42V456.62H583.9M583.9 456.62V455.15H596.8M583.9 456.62V458.08H591.37M591.37 458.08V457.1H596.8M591.37 458.08V459.05H596.8M582.03 458.81V463.19H586.92M586.92 463.19V461H596.8M586.92 463.19V465.39H588.72M588.72 465.39V463.93H590.64M590.64 463.93V462.95H596.8M590.64 463.93V464.9H596.8M588.72 465.39V466.85H596.8M569.26 467.73V476.66H579.34M579.34 476.66V471.84H581.43M581.43 471.84V468.8H596.8M581.43 471.84V474.89H584.03M584.03 474.89V473.18H585.64M585.64 473.18V471.72H590.52M590.52 471.72V470.75H596.8M590.52 471.72V472.7H596.8M585.64 473.18V474.65H596.8M584.03 474.89V476.59H596.8M579.34 476.66V481.47H581.5M581.5 481.47V479.52H585.47M585.47 479.52V478.54H596.8M585.47 479.52V480.49H596.8M581.5 481.47V483.42H588.88M588.88 483.42V482.44H596.8M588.88 483.42V484.39H596.8M559.58 483.46V499.19H570.56M570.56 499.19V491.58H580.04M580.04 491.58V488.05H582.49M582.49 488.05V486.34H596.8M582.49 488.05V489.75H587.58M587.58 489.75V488.29H596.8M587.58 489.75V491.21H589.44M589.44 491.21V490.24H596.8M589.44 491.21V492.19H596.8M580.04 491.58V495.11H590.42M590.42 495.11V494.14H596.8M590.42 495.11V496.09H596.8M570.56 499.19V506.81H575.94M575.94 506.81V502.91H579.49M579.49 502.91V499.5H583.09M583.09 499.5V498.04H596.8M583.09 499.5V500.96H592.58M592.58 500.96V499.98H596.8M592.58 500.96V501.93H596.8M579.49 502.91V506.32H582.48M582.48 506.32V504.86H585.15M585.15 504.86V503.88H596.8M585.15 504.86V505.83H596.8M582.48 506.32V507.78H596.8M575.94 506.81V510.7H580.54M580.54 510.7V509.73H596.8M580.54 510.7V511.68H596.8M520.86 493.02V531.85H529.44M529.44 531.85V515.33H547.41M547.41 515.33V513.63H596.8M547.41 515.33V517.04H562.81M562.81 517.04V515.58H596.8M562.81 517.04V518.5H582.11M582.11 518.5V517.53H596.8M582.11 518.5V519.48H596.8M529.44 531.85V548.37H567.16M567.16 548.37V524.59H577.34M577.34 524.59V522.4H586.48M586.48 522.4V521.42H596.8M586.48 522.4V523.37H596.8M577.34 524.59V526.78H578.93M578.93 526.78V525.32H596.8M578.93 526.78V528.25H586.93M586.93 528.25V527.27H596.8M586.93 528.25V529.22H596.8M567.16 548.37V572.14H572.55M572.55 572.14V558.84H578.68M578.68 558.84V545.94H582.75M582.75 545.94V537.2H585.79M585.79 537.2V532.14H590.83M590.83 532.14V531.17H596.8M590.83 532.14V533.12H596.8M585.79 537.2V542.26H590.18M590.18 542.26V538.72H592.43M592.43 538.72V536.04H593.75M593.75 536.04V535.07H596.8M593.75 536.04V537.02H596.8M592.43 538.72V541.4H593.68M593.68 541.4V539.94H594.91M594.91 539.94V538.97H596.8M594.91 539.94V540.92H596.8M593.68 541.4V542.86H596.8M590.18 542.26V545.79H594.43M594.43 545.79V544.81H596.8M594.43 545.79V546.76H596.8M582.75 545.94V554.68H587.15M587.15 554.68V551.15H588.4M588.4 551.15V549.69H591.68M591.68 549.69V548.71H596.8M591.68 549.69V550.66H596.8M588.4 551.15V552.61H596.8M587.15 554.68V558.21H587.92M587.92 558.21V555.53H591.15M591.15 555.53V554.56H596.8M591.15 555.53V556.51H596.8M587.92 558.21V560.89H589.88M589.88 560.89V559.43H593M593 559.43V558.46H596.8M593 559.43V560.41H596.8M589.88 560.89V562.36H596.8M578.68 558.84V571.74H582.9M582.9 571.74V568.45H585.06M585.06 568.45V565.77H585.88M585.88 565.77V564.31H596.8M585.88 565.77V567.23H590.16M590.16 567.23V566.25H596.8M590.16 567.23V568.2H596.8M585.06 568.45V571.13H587.85M587.85 571.13V570.15H596.8M587.85 571.13V572.1H596.8M582.9 571.74V575.03H591.7M591.7 575.03V574.05H596.8M591.7 575.03V576H596.8M572.55 572.14V585.44H581.64M581.64 585.44V580.87H587.31M587.31 580.87V578.92H589.86M589.86 578.92V577.95H596.8M589.86 578.92V579.9H596.8M587.31 580.87V582.82H593.15M593.15 582.82V581.85H596.8M593.15 582.82V583.8H596.8M581.64 585.44V590.01H584.2M584.2 590.01V586.72H586.9M586.9 586.72V585.75H596.8M586.9 586.72V587.69H596.8M584.2 590.01V593.3H588.27M588.27 593.3V591.11H590.49M590.49 591.11V589.64H596.8M590.49 591.11V592.57H591.47M591.47 592.57V591.59H596.8M591.47 592.57V593.54H596.8M588.27 593.3V595.49H596.8M549.03 615.47V616.93H596.8M474.46 655.74V630.06H541.92M541.92 630.06V623.45H545.2M545.2 623.45V619.86H573.79M573.79 619.86V618.88H596.8M573.79 619.86V620.83H596.8M545.2 623.45V627.04H551.78M551.78 627.04V623.75H580.08M580.08 623.75V622.78H596.8M551.78 627.04V630.33H555.42M555.42 630.33V628.14H568.23M568.23 628.14V626.68H596.8M568.23 628.14V629.6H573.78M573.78 629.6V628.63H596.8M573.78 629.6V630.58H596.8M555.42 630.33V632.52H596.8M541.92 630.06V636.67H550.42M550.42 636.67V634.47H596.8M550.42 636.67V638.86H568.04M568.04 638.86V637.4H581.44M581.44 637.4V636.42H596.8M581.44 637.4V638.37H596.8M568.04 638.86V640.32H596.8M508.59 648.97V653.23H516.87M516.87 653.23V649.09H535.18M535.18 649.09V650.07H596.8M568.29 697.82V698.79H596.8M492.22 713.87V750.44H498.21M498.21 750.44V708.05H534.33M534.33 708.05V702.94H558.13M558.13 702.94V700.74H596.8M558.13 702.94V705.13H572.64M572.64 705.13V703.67H586.16M586.16 703.67V702.69H596.8M586.16 703.67V704.64H596.8M572.64 705.13V706.59H596.8M534.33 708.05V713.17H557.47M557.47 713.17V710.98H561.22M561.22 710.98V709.51H580.61M580.61 709.51V708.54H596.8M580.61 709.51V710.49H596.8M561.22 710.98V712.44H596.8M557.47 713.17V715.36H578.66M578.66 715.36V714.39H596.8M578.66 715.36V716.34H596.8M498.21 750.44V792.83H499.01M499.01 792.83V739.94H512.98M512.98 739.94V718.29H596.8M512.98 739.94V761.6H514.38M514.38 761.6V735.17H518.47M518.47 735.17V725.53H527.15M527.15 725.53V721.7H544.14M544.14 721.7V720.24H596.8M544.14 721.7V723.16H553.15M553.15 723.16V724.13H596.8M527.15 725.53V729.37H541.67M541.67 729.37V727.06H550.98M550.98 727.06V726.08H596.8M550.98 727.06V728.03H596.8M541.67 729.37V731.69H556.84M556.84 731.69V733.39H567.49M567.49 733.39V734.85H579.9M579.9 734.85V735.83H596.8M518.47 735.17V744.81H525.15M525.15 744.81V739.24H553.06M553.06 739.24V737.78H596.8M553.06 739.24V740.7H564.02M564.02 740.7V739.73H596.8M564.02 740.7V741.68H596.8M525.15 744.81V750.39H534.11M534.11 750.39V745.09H576.95M576.95 745.09V743.62H596.8M576.95 745.09V746.55H587.52M587.52 746.55V745.57H596.8M587.52 746.55V747.52H596.8M534.11 750.39V755.68H544.74M544.74 755.68V751.91H561.24M561.24 751.91V750.45H583.1M583.1 750.45V749.47H596.8M583.1 750.45V751.42H596.8M561.24 751.91V753.37H596.8M544.74 755.68V759.46H558.56M558.56 759.46V756.78H579.37M579.37 756.78V755.32H596.8M579.37 756.78V758.24H582.13M582.13 758.24V757.27H596.8M582.13 758.24V759.22H596.8M558.56 759.46V762.14H574.69M574.69 762.14V761.17H596.8M514.38 761.6V788.03H517.97M517.97 788.03V778.04H524.75M524.75 778.04V772.74H552.47M552.47 772.74V769.69H556.36M556.36 769.69V771.89H573.45M573.45 771.89V772.86H596.8M552.47 772.74V775.79H563.88M563.88 775.79V774.81H596.8M563.88 775.79V776.76H596.8M524.75 778.04V783.34H538.84M538.84 783.34V781.15H548.17M548.17 781.15V779.68H576.06M576.06 779.68V778.71H596.8M576.06 779.68V780.66H596.8M548.17 781.15V782.61H596.8M538.84 783.34V785.53H575.17M575.17 785.53V784.56H596.8M575.17 785.53V786.51H596.8M517.97 788.03V798.02H522.86M522.86 798.02V791.38H530.8M530.8 791.38V789.43H554.21M554.21 789.43V788.45H596.8M554.21 789.43V790.4H596.8M530.8 791.38V793.33H552.29M552.29 793.33V792.35H596.8M552.29 793.33V794.3H596.8M522.86 798.02V804.66H552.35M552.35 804.66V800.88H558.49M558.49 800.88V798.69H566.64M566.64 798.69V797.23H586.65M586.65 797.23V796.25H596.8M586.65 797.23V798.2H596.8M566.64 798.69V800.15H596.8M558.49 800.88V803.07H579.99M579.99 803.07V802.1H596.8M579.99 803.07V804.05H596.8M552.35 804.66V808.43H566M566 808.43V806.97H584.08M584.08 806.97V806H596.8M584.08 806.97V807.95H596.8M566 808.43V809.89H596.8M499.01 792.83V845.72H509.19M509.19 845.72V824.5H512.98M512.98 824.5V811.84H596.8M512.98 824.5V837.15H516.37M516.37 837.15V823.51H542.32M542.32 823.51V816.23H565.77M565.77 816.23V814.77H579.06M579.06 814.77V813.79H596.8M579.06 814.77V815.74H596.8M565.77 816.23V817.69H596.8M542.32 823.51V830.79H557.98M557.98 830.79V825.49H564.22M564.22 825.49V822.56H570.22M570.22 822.56V820.61H587.69M587.69 820.61V819.64H596.8M587.69 820.61V821.59H596.8M570.22 822.56V824.51H585.11M585.11 824.51V823.54H596.8M585.11 824.51V825.49H596.8M564.22 825.49V828.41H581.57M581.57 828.41V827.44H596.8M581.57 828.41V829.39H596.8M557.98 830.79V836.09H573.34M573.34 836.09V832.31H586.29M586.29 832.31V831.34H596.8M586.29 832.31V833.28H596.8M573.34 836.09V839.86H577.04M577.04 839.86V837.67H582.93M582.93 837.67V836.21H589.1M589.1 836.21V835.23H596.8M589.1 836.21V837.18H596.8M582.93 837.67V839.13H596.8M577.04 839.86V842.06H589.58M589.58 842.06V841.08H596.8M589.58 842.06V843.03H596.8M516.37 837.15V850.8H519.26M519.26 850.8V845.95H565.27M565.27 845.95V844.98H596.8M519.26 850.8V855.64H555.89M555.89 855.64V851.68H558.85M558.85 851.68V848.88H596.8M558.85 851.68V854.48H567.93M567.93 854.48V852.29H569.7M569.7 852.29V850.83H596.8M569.7 852.29V853.75H584.66M584.66 853.75V852.78H596.8M584.66 853.75V854.72H596.8M567.93 854.48V856.67H596.8M555.89 855.64V859.6H563.25M563.25 859.6V858.62H596.8M563.25 859.6V860.57H596.8M509.19 845.72V866.94H511.78M511.78 866.94V862.52H596.8M511.78 866.94V871.36H513.28M513.28 871.36V878.26H514.08M514.08 878.26V868.61H519.26M519.26 868.61V866.42H596.8M519.26 868.61V870.8H551.2M551.2 870.8V869.34H579.56M579.56 869.34V868.37H596.8M579.56 869.34V870.32H596.8M551.2 870.8V872.27H596.8M514.08 878.26V887.91H517.27M517.27 887.91V878.84H526.35M526.35 878.84V876.65H533.43M533.43 876.65V875.19H573.17M573.17 875.19V874.22H596.8M573.17 875.19V876.16H596.8M533.43 876.65V878.11H596.8M526.35 878.84V881.04H569.36M569.36 881.04V880.06H596.8M569.36 881.04V882.01H596.8M517.27 887.91V896.97H520.76M520.76 896.97V889.5H525.15M525.15 889.5V884.94H548.5M548.5 884.94V883.96H596.8M548.5 884.94V885.91H596.8M525.15 889.5V894.07H538.62M538.62 894.07V891.51H557.18M557.18 891.51V889.32H566.29M566.29 889.32V887.86H596.8M566.29 889.32V890.78H587.59M587.59 890.78V889.81H596.8M587.59 890.78V891.76H596.8M557.18 891.51V893.71H596.8M538.62 894.07V896.63H564.92M564.92 896.63V895.66H596.8M564.92 896.63V897.61H596.8M520.76 896.97V904.43H537.83M537.83 904.43V901.02H569.76M569.76 901.02V899.55H596.8M569.76 901.02V902.48H583.57M583.57 902.48V901.5H596.8M583.57 902.48V903.45H596.8M537.83 904.43V907.84H541.72M541.72 907.84V906.38H580.22M580.22 906.38V905.4H596.8M580.22 906.38V907.35H596.8M541.72 907.84V909.3H596.8"/>
<path stroke="#dcb46c" d="M492.92 194.98V204.75H501.9M501.9 204.75V214.44H513.68M513.68 214.44V217.36H529.44M488.33 212.72V230.47H514.77M443.83 423.09V325.14H452.11M452.11 325.14V309.52H469.77M469.77 309.52V302.15H524.65M452.11 325.14V340.76H473.76M443.83 423.09V521.05H450.81"/>
<path stroke="#8c7de3" d="M547.36 201.04V195.68H556.09M556.09 195.68V193H581.36M581.36 193V192.02H596.8M581.36 193V193.97H596.8M556.09 195.68V198.36H567.98M567.98 198.36V196.9H585.29M585.29 196.9V195.92H596.8M585.29 196.9V197.87H596.8M567.98 198.36V199.82H596.8M557.78 206.4V204.2H568.3M568.3 204.2V202.74H587.27M587.27 202.74V201.77H596.8M587.27 202.74V203.72H596.8M568.3 204.2V205.67H596.8M580.68 208.59V207.62H596.8"/>
<path stroke="#d9b573" d="M580.68 208.59V209.56H596.8M513.68 214.44V211.51H596.8"/>
<path stroke="#e8af45" d="M529.44 217.36V220.29H559.83"/>
<path stroke="#e6b04d" d="M559.83 220.29V222.23H579.61M579.61 222.23V221.26H596.8M579.61 222.23V223.21H596.8M514.77 230.47V226.13H554.84M554.84 226.13V225.16H596.8M554.84 226.13V227.11H596.8"/>
<path stroke="#a49dd2" d="M514.77 230.47V234.8H524.45M479.05 681.42V648.97H508.59M567.49 733.39V731.93H596.8M579.9 734.85V733.88H596.8"/>
<path stroke="#c0c0c0" d="M450.81 521.05V631.31H456.7M456.7 631.31V655.74H474.46M474.46 655.74V681.42H479.05M479.05 681.42V713.87H492.22"/>
<path stroke="#cdbb9a" d="M565.27 845.95V846.93H596.8"/>
<path stroke="#7b68ee" d="M719.5 193.04V132.57H783.2M783.2 132.57V131.6H907.6M783.2 132.57V133.55H907.6M748.8 155.74V144.03H793.28M793.28 144.03V139.64H806.26M806.26 139.64V136.96H832.42M832.42 136.96V135.5H907.6M832.42 136.96V138.42H858.13M858.13 138.42V137.45H907.6M858.13 138.42V139.4H907.6M806.26 139.64V142.32H848.39M848.39 142.32V141.35H907.6M848.39 142.32V143.29H907.6M793.28 144.03V148.41H845.5M845.5 148.41V146.22H886.99M886.99 146.22V145.24H907.6M886.99 146.22V147.19H907.6M845.5 148.41V150.6H869.52M869.52 150.6V149.14H907.6M869.52 150.6V152.07H894.71M894.71 152.07V151.09H907.6M894.71 152.07V153.04H907.6M771.72 159.13V156.45H829.23M829.23 156.45V154.99H907.6M829.23 156.45V157.91H848.45M848.45 157.91V156.94H907.6M848.45 157.91V158.89H907.6M771.72 159.13V161.81H790.74M790.74 161.81V160.84H907.6M760.14 175.79V165.71H784.3M784.3 165.71V164.74H907.6M784.3 165.71V166.68H907.6M803.67 194.98V185.2H809.46M809.46 185.2V184.23H907.6M809.46 185.2V186.18H907.6M896.08 196.9V197.87H907.6M878.76 198.36V199.82H907.6M858.13 201.04V206.4H868.56M868.56 206.4V204.2H879.09M879.09 204.2V202.74H898.06M898.06 202.74V201.77H907.6M898.06 202.74V203.72H907.6M879.09 204.2V205.67H907.6M868.56 206.4V208.59H891.47M891.47 208.59V207.62H907.6M824.43 214.44V211.51H907.6M824.43 214.44V217.36H840.21M840.21 217.36V214.44H869.36M869.36 214.44V213.46H907.6M869.36 214.44V215.41H907.6M840.21 217.36V220.29H870.61M870.61 220.29V218.34H884.59M884.59 218.34V217.36H907.6M884.59 218.34V219.31H907.6M870.61 220.29V222.23H890.4M890.4 222.23V221.26H907.6M890.4 222.23V223.21H907.6M825.53 230.47V226.13H865.62M865.62 226.13V225.16H907.6M865.62 226.13V227.11H907.6M835.22 234.8V239.58H843.4M843.4 239.58V245.23H846.1M846.1 245.23V239.29H853.09M853.09 239.29V237.83H865.01M865.01 237.83V236.85H907.6M853.09 239.29V240.75H907.6M846.1 245.23V251.17H856.88M856.88 251.17V243.67H866.47M866.47 243.67V242.7H907.6M866.47 243.67V244.65H907.6M856.88 251.17V258.66H860.18M860.18 258.66V252.45H863.57M863.57 252.45V249.52H879.36M879.36 249.52V247.57H887.37M887.37 247.57V246.6H907.6M887.37 247.57V248.55H907.6M879.36 249.52V251.47H891.53M891.53 251.47V250.5H907.6M891.53 251.47V252.45H907.6M863.57 252.45V255.37H878.21M878.21 255.37V254.39H907.6M878.21 255.37V256.34H907.6M860.18 258.66V264.87H862.27M862.27 264.87V261.22H866.51M866.51 261.22V259.27H879.56M879.56 259.27V258.29H907.6M879.56 259.27V260.24H907.6M866.51 261.22V263.17H882.17M882.17 263.17V262.19H907.6M882.17 263.17V264.14H907.6M862.27 264.87V268.53H867.08M867.08 268.53V267.06H884.88M884.88 267.06V266.09H907.6M884.88 267.06V268.04H907.6M867.08 268.53V269.99H907.6M748.35 351.27V279.44H789.49M789.49 279.44V272.91H804.96M804.96 272.91V271.94H907.6M804.96 272.91V273.89H907.6M789.49 279.44V285.96H805.96M805.96 285.96V276.81H860.58M860.58 276.81V275.84H907.6M860.58 276.81V277.78H907.6M805.96 285.96V295.11H815.25M815.25 295.11V291H855.98M855.98 291V286.19H876.15M876.15 286.19V283.39H877.8M877.8 283.39V281.2H886.75M886.75 281.2V279.73H907.6M886.75 281.2V282.66H893.68M893.68 282.66V281.68H907.6M893.68 282.66V283.63H907.6M877.8 283.39V285.58H907.6M876.15 286.19V288.99H883.65M883.65 288.99V287.53H907.6M883.65 288.99V290.45H898.87M898.87 290.45V289.48H907.6M898.87 290.45V291.43H907.6M855.98 291V295.81H877.95M877.95 295.81V294.35H896.59M896.59 294.35V293.38H907.6M896.59 294.35V295.33H907.6M877.95 295.81V297.28H907.6M815.25 295.11V299.22H907.6M835.42 302.15V301.17H907.6M780.5 309.52V316.89H804.66M804.66 316.89V310.19H830.72M830.72 310.19V306.53H849.89M849.89 306.53V305.07H907.6M849.89 306.53V308H862.63M862.63 308V307.02H907.6M862.63 308V308.97H907.6M830.72 310.19V313.84H846.9M846.9 313.84V311.89H871.05M871.05 311.89V310.92H907.6M871.05 311.89V312.87H907.6M846.9 313.84V315.79H862.04M862.04 315.79V314.82H907.6M862.04 315.79V316.77H907.6M804.66 316.89V323.59H825.53M825.53 323.59V320.18H845.9M845.9 320.18V318.72H907.6M845.9 320.18V321.64H875M875 321.64V320.66H907.6M875 321.64V322.61H907.6M825.53 323.59V327H855.78M855.78 327V325.54H864.76M864.76 325.54V324.56H907.6M864.76 325.54V326.51H907.6M855.78 327V328.46H907.6M762.83 325.14V340.76H784.5M784.5 340.76V330.41H907.6M784.5 340.76V351.1H827.33M827.33 351.1V341.62H838.81M838.81 341.62V336.26H852.09M852.09 336.26V333.33H883.86M883.86 333.33V332.36H907.6M883.86 333.33V334.31H907.6M852.09 336.26V339.18H864.87M864.87 339.18V337.23H888.61M888.61 337.23V336.26H907.6M888.61 337.23V338.21H907.6M864.87 339.18V341.13H884.94M884.94 341.13V340.16H907.6M884.94 341.13V342.11H907.6M838.81 341.62V346.98H851.39M851.39 346.98V345.03H861.27M861.27 345.03V344.05H907.6M861.27 345.03V346H907.6M851.39 346.98V348.93H874.8M874.8 348.93V347.95H907.6M874.8 348.93V349.9H907.6M827.33 351.1V360.59H836.61M836.61 360.59V354.29H851.39M851.39 354.29V352.83H889.07M889.07 352.83V351.85H907.6M889.07 352.83V353.8H907.6M851.39 354.29V355.75H907.6M836.61 360.59V366.9H842.5M842.5 366.9V362.33H856.88M856.88 362.33V360.13H861.64M861.64 360.13V358.67H883.9M883.9 358.67V357.7H907.6M883.9 358.67V359.65H907.6M861.64 360.13V361.6H907.6M856.88 362.33V364.52H889.5M889.5 364.52V363.55H907.6M889.5 364.52V365.49H907.6M842.5 366.9V371.46H861.87M861.87 371.46V368.42H892.19M892.19 368.42V367.44H907.6M892.19 368.42V369.39H907.6M861.87 371.46V374.51H877.57M877.57 374.51V372.32H897.72M897.72 372.32V371.34H907.6M897.72 372.32V373.29H907.6M877.57 374.51V376.7H887.99M887.99 376.7V375.24H907.6M887.99 376.7V378.16H897.8M897.8 378.16V377.19H907.6M897.8 378.16V379.14H907.6M761.53 521.05V410.79H807.26M807.26 410.79V382.06H886.03M886.03 382.06V381.09H907.6M886.03 382.06V383.04H907.6M807.26 410.79V439.52H822.44M822.44 439.52V414.45H839.61M839.61 414.45V401.28H865.37M865.37 401.28V391.81H872.46M872.46 391.81V387.91H884.69M884.69 387.91V385.96H896.35M896.35 385.96V384.99H907.6M896.35 385.96V386.94H907.6M884.69 387.91V389.86H899.18M899.18 389.86V388.88H907.6M899.18 389.86V390.83H907.6M872.46 391.81V395.71H874.3M874.3 395.71V393.76H888.75M888.75 393.76V392.78H907.6M888.75 393.76V394.73H907.6M874.3 395.71V397.66H895.74M895.74 397.66V396.68H907.6M895.74 397.66V398.63H907.6M865.37 401.28V410.75H873.75M873.75 410.75V403.75H877.47M877.47 403.75V401.55H898.18M898.18 401.55V400.58H907.6M898.18 401.55V402.53H907.6M877.47 403.75V405.94H883.95M883.95 405.94V404.48H907.6M883.95 405.94V407.4H893.44M893.44 407.4V406.43H907.6M893.44 407.4V408.38H907.6M873.75 410.75V417.76H881.04M881.04 417.76V414.47H883.64M883.64 414.47V411.79H891.03M891.03 411.79V410.32H907.6M891.03 411.79V413.25H901.11M901.11 413.25V412.27H907.6M901.11 413.25V414.22H907.6M883.64 414.47V417.15H893.39M893.39 417.15V416.17H907.6M893.39 417.15V418.12H907.6M881.04 417.76V421.04H894.81M894.81 421.04V420.07H907.6M894.81 421.04V422.02H907.6M839.61 414.45V427.62H864.17M864.17 427.62V424.94H891.83M891.83 424.94V423.97H907.6M891.83 424.94V425.92H907.6M864.17 427.62V430.3H870.56M870.56 430.3V428.84H879.12M879.12 428.84V427.87H907.6M879.12 428.84V429.82H907.6M870.56 430.3V431.76H907.6M822.44 439.52V464.59H829.42M829.42 464.59V436.15H841.51M841.51 436.15V434.69H860.88M860.88 434.69V433.71H907.6M860.88 434.69V435.66H907.6M841.51 436.15V437.61H907.6M829.42 464.59V493.02H831.62M831.62 493.02V454.19H838.11M838.11 454.19V442.49H892.62M892.62 442.49V440.54H900.18M900.18 440.54V439.56H907.6M900.18 440.54V441.51H907.6M892.62 442.49V444.43H902.88M902.88 444.43V443.46H907.6M902.88 444.43V445.41H907.6M838.11 454.19V465.9H856.08M856.08 465.9V448.33H891.03M891.03 448.33V447.36H907.6M891.03 448.33V449.31H907.6M856.08 465.9V483.46H870.36M870.36 483.46V467.73H880.04M880.04 467.73V458.81H892.82M892.82 458.81V454.42H893.79M893.79 454.42V452.23H896.34M896.34 452.23V451.26H907.6M896.34 452.23V453.21H907.6M893.79 454.42V456.62H894.7M894.7 456.62V455.15H907.6M894.7 456.62V458.08H902.16M902.16 458.08V457.1H907.6M902.16 458.08V459.05H907.6M892.82 458.81V463.19H897.72M897.72 463.19V461H907.6M897.72 463.19V465.39H899.51M899.51 465.39V463.93H901.43M901.43 463.93V462.95H907.6M901.43 463.93V464.9H907.6M899.51 465.39V466.85H907.6M880.04 467.73V476.66H890.13M890.13 476.66V471.84H892.23M892.23 471.84V468.8H907.6M892.23 471.84V474.89H894.82M894.82 474.89V473.18H896.43M896.43 473.18V471.72H901.31M901.31 471.72V470.75H907.6M901.31 471.72V472.7H907.6M896.43 473.18V474.65H907.6M894.82 474.89V476.59H907.6M890.13 476.66V481.47H892.29M892.29 481.47V479.52H896.26M896.26 479.52V478.54H907.6M896.26 479.52V480.49H907.6M892.29 481.47V483.42H899.67M899.67 483.42V482.44H907.6M899.67 483.42V484.39H907.6M870.36 483.46V499.19H881.34M881.34 499.19V491.58H890.83M890.83 491.58V488.05H893.28M893.28 488.05V486.34H907.6M893.28 488.05V489.75H898.37M898.37 489.75V488.29H907.6M898.37 489.75V491.21H900.24M900.24 491.21V490.24H907.6M900.24 491.21V492.19H907.6M890.83 491.58V495.11H901.22M901.22 495.11V494.14H907.6M901.22 495.11V496.09H907.6M881.34 499.19V506.81H886.73M886.73 506.81V502.91H890.28M890.28 502.91V499.5H893.88M893.88 499.5V498.04H907.6M893.88 499.5V500.96H903.38M903.38 500.96V499.98H907.6M903.38 500.96V501.93H907.6M890.28 502.91V506.32H893.27M893.27 506.32V504.86H895.94M895.94 504.86V503.88H907.6M895.94 504.86V505.83H907.6M893.27 506.32V507.78H907.6M886.73 506.81V510.7H891.34M891.34 510.7V509.73H907.6M891.34 510.7V511.68H907.6M831.62 493.02V531.85H840.21M840.21 531.85V515.33H858.18M858.18 515.33V513.63H907.6M858.18 515.33V517.04H873.59M873.59 517.04V515.58H907.6M873.59 517.04V518.5H892.9M892.9 518.5V517.53H907.6M892.9 518.5V519.48H907.6M840.21 531.85V548.37H877.95M877.95 548.37V524.59H888.13M888.13 524.59V522.4H897.27M897.27 522.4V521.42H907.6M897.27 522.4V523.37H907.6M888.13 524.59V526.78H889.72M889.72 526.78V525.32H907.6M889.72 526.78V528.25H897.73M897.73 528.25V527.27H907.6M897.73 528.25V529.22H907.6M877.95 548.37V572.14H883.34M883.34 572.14V558.84H889.47M889.47 558.84V545.94H893.54M893.54 545.94V537.2H896.59M896.59 537.2V532.14H901.63M901.63 532.14V531.17H907.6M901.63 532.14V533.12H907.6M896.59 537.2V542.26H900.98M900.98 542.26V538.72H903.23M903.23 538.72V536.04H904.54M904.54 536.04V535.07H907.6M904.54 536.04V537.02H907.6M903.23 538.72V541.4H904.48M904.48 541.4V539.94H905.71M905.71 539.94V538.97H907.6M905.71 539.94V540.92H907.6M904.48 541.4V542.86H907.6M900.98 542.26V545.79H905.23M905.23 545.79V544.81H907.6M905.23 545.79V546.76H907.6M893.54 545.94V554.68H897.94M897.94 554.68V551.15H899.19M899.19 551.15V549.69H902.48M902.48 549.69V548.71H907.6M902.48 549.69V550.66H907.6M899.19 551.15V552.61H907.6M897.94 554.68V558.21H898.72M898.72 558.21V555.53H901.94M901.94 555.53V554.56H907.6M901.94 555.53V556.51H907.6M898.72 558.21V560.89H900.68M900.68 560.89V559.43H903.8M903.8 559.43V558.46H907.6M903.8 559.43V560.41H907.6M900.68 560.89V562.36H907.6M889.47 558.84V571.74H893.69M893.69 571.74V568.45H895.85M895.85 568.45V565.77H896.67M896.67 565.77V564.31H907.6M896.67 565.77V567.23H900.96M900.96 567.23V566.25H907.6M900.96 567.23V568.2H907.6M895.85 568.45V571.13H898.65M898.65 571.13V570.15H907.6M898.65 571.13V572.1H907.6M893.69 571.74V575.03H902.5M902.5 575.03V574.05H907.6M902.5 575.03V576H907.6M883.34 572.14V585.44H892.43M892.43 585.44V580.87H898.11M898.11 580.87V578.92H900.66M900.66 578.92V577.95H907.6M900.66 578.92V579.9H907.6M898.11 580.87V582.82H903.95M903.95 582.82V581.85H907.6M903.95 582.82V583.8H907.6M892.43 585.44V590.01H894.99M894.99 590.01V586.72H897.69M897.69 586.72V585.75H907.6M897.69 586.72V587.69H907.6M894.99 590.01V593.3H899.06M899.06 593.3V591.11H901.29M901.29 591.11V589.64H907.6M901.29 591.11V592.57H902.27M902.27 592.57V591.59H907.6M902.27 592.57V593.54H907.6M899.06 593.3V595.49H907.6M850.59 600.97V598.41H876.97M876.97 598.41V597.44H907.6M876.97 598.41V599.39H907.6M866.63 603.53V601.34H907.6M898.54 604.26V603.29H907.6M840.51 606.88V612.79H849.19M849.19 612.79V615.47H859.8M859.8 615.47V614.01H891.57M891.57 614.01V613.03H907.6M859.8 615.47V616.93H907.6M767.42 631.31V655.74H785.2M785.2 655.74V630.06H852.69M852.69 630.06V623.45H855.98M855.98 623.45V619.86H884.57M884.57 619.86V618.88H907.6M884.57 619.86V620.83H907.6M855.98 623.45V627.04H862.55M862.55 627.04V623.75H890.88M890.88 623.75V622.78H907.6M890.88 623.75V624.73H907.6M862.55 627.04V630.33H866.2M866.2 630.33V628.14H879.01M879.01 628.14V626.68H907.6M879.01 628.14V629.6H884.57M884.57 629.6V628.63H907.6M884.57 629.6V630.58H907.6M866.2 630.33V632.52H907.6M852.69 630.06V636.67H861.19M861.19 636.67V634.47H907.6M861.19 636.67V638.86H878.82M878.82 638.86V637.4H892.23M892.23 637.4V636.42H907.6M892.23 637.4V638.37H907.6M878.82 638.86V640.32H907.6M785.2 655.74V681.42H789.79M789.79 681.42V648.97H819.34M819.34 648.97V644.71H836.91M836.91 644.71V643.24H861.73M861.73 643.24V642.27H907.6M861.73 643.24V644.22H907.6M836.91 644.71V646.17H907.6M819.34 648.97V653.23H827.63M827.63 653.23V649.09H845.95M845.95 649.09V648.12H907.6M845.95 649.09V650.07H907.6M827.63 653.23V657.38H835.47M835.47 657.38V654.45H855.76M855.76 654.45V652.99H865.63M865.63 652.99V652.02H907.6M865.63 652.99V653.96H907.6M855.76 654.45V655.91H907.6M835.47 657.38V660.3H861.06M861.06 660.3V658.84H887.53M887.53 658.84V657.86H907.6M887.53 658.84V659.81H907.6M861.06 660.3V661.76H907.6M789.79 681.42V713.87H802.97M802.97 713.87V677.29H823.23M823.23 677.29V667.73H842.4M842.4 667.73V664.69H886.23M886.23 664.69V663.71H907.6M886.23 664.69V665.66H907.6M842.4 667.73V670.78H861.36M861.36 670.78V668.58H874.41M874.41 668.58V667.61H907.6M874.41 668.58V669.56H907.6M861.36 670.78V672.97H871.77M871.77 672.97V671.51H907.6M871.77 672.97V674.43H890.01M890.01 674.43V673.46H907.6M890.01 674.43V675.41H907.6M823.23 677.29V686.86H845.7M845.7 686.86V681.5H870.13M870.13 681.5V678.82H877.89M877.89 678.82V677.35H907.6M877.89 678.82V680.28H890.93M890.93 680.28V679.3H907.6M890.93 680.28V681.25H907.6M870.13 681.5V684.18H894.17M894.17 684.18V683.2H907.6M894.17 684.18V685.15H907.6M845.7 686.86V692.22H861.1M861.1 692.22V688.56H866.11M866.11 688.56V687.1H907.6M866.11 688.56V690.02H883.59M883.59 690.02V689.05H907.6M883.59 690.02V691H907.6M861.1 692.22V695.87H863.71M863.71 695.87V693.92H874.34M874.34 693.92V692.95H907.6M874.34 693.92V694.9H907.6M863.71 695.87V697.82H879.08M879.08 697.82V696.85H907.6M879.08 697.82V698.79H907.6M802.97 713.87V750.44H808.96M808.96 750.44V708.05H845.1M845.1 708.05V702.94H868.91M868.91 702.94V700.74H907.6M868.91 702.94V705.13H883.43M883.43 705.13V703.67H896.95M896.95 703.67V702.69H907.6M896.95 703.67V704.64H907.6M883.43 705.13V706.59H907.6M845.1 708.05V713.17H868.25M868.25 713.17V710.98H872M872 710.98V709.51H891.4M891.4 709.51V708.54H907.6M891.4 709.51V710.49H907.6M872 710.98V712.44H907.6M868.25 713.17V715.36H889.45M889.45 715.36V714.39H907.6M889.45 715.36V716.34H907.6M808.96 750.44V792.83H809.76M809.76 792.83V739.94H823.73M823.73 739.94V718.29H907.6M823.73 739.94V761.6H825.13M825.13 761.6V735.17H829.23M829.23 735.17V725.53H837.91M837.91 725.53V721.7H854.91M854.91 721.7V720.24H907.6M854.91 721.7V723.16H863.92M863.92 723.16V722.18H907.6M863.92 723.16V724.13H907.6M837.91 725.53V729.37H852.44M852.44 729.37V727.06H861.76M861.76 727.06V726.08H907.6M861.76 727.06V728.03H907.6M852.44 729.37V731.69H867.62M867.62 731.69V729.98H907.6M867.62 731.69V733.39H878.27M878.27 733.39V731.93H907.6M878.27 733.39V734.85H890.69M890.69 734.85V733.88H907.6M890.69 734.85V735.83H907.6M829.23 735.17V744.81H835.91M835.91 744.81V739.24H863.84M863.84 739.24V737.78H907.6M863.84 739.24V740.7H874.8M874.8 740.7V739.73H907.6M874.8 740.7V741.68H907.6M835.91 744.81V750.39H844.87M844.87 750.39V745.09H887.74M887.74 745.09V743.62H907.6M887.74 745.09V746.55H898.32M898.32 746.55V745.57H907.6M898.32 746.55V747.52H907.6M844.87 750.39V755.68H855.51M855.51 755.68V751.91H872.02M872.02 751.91V750.45H893.89M893.89 750.45V749.47H907.6M893.89 750.45V751.42H907.6M872.02 751.91V753.37H907.6M855.51 755.68V759.46H869.34M869.34 759.46V756.78H890.16M890.16 756.78V755.32H907.6M890.16 756.78V758.24H892.92M892.92 758.24V757.27H907.6M892.92 758.24V759.22H907.6M869.34 759.46V762.14H885.48M885.48 762.14V761.17H907.6M885.48 762.14V763.12H907.6M825.13 761.6V788.03H828.73M828.73 788.03V778.04H835.51M835.51 778.04V772.74H863.24M863.24 772.74V769.69H867.14M867.14 769.69V767.5H872.93M872.93 767.5V766.04H894.54M894.54 766.04V765.06H907.6M894.54 766.04V767.01H907.6M872.93 767.5V768.96H907.6M867.14 769.69V771.89H884.24M884.24 771.89V770.91H907.6M884.24 771.89V772.86H907.6M863.24 772.74V775.79H874.66M874.66 775.79V774.81H907.6M874.66 775.79V776.76H907.6M835.51 778.04V783.34H849.61M849.61 783.34V781.15H858.95M858.95 781.15V779.68H886.85M886.85 779.68V778.71H907.6M886.85 779.68V780.66H907.6M858.95 781.15V782.61H907.6M849.61 783.34V785.53H885.96M885.96 785.53V784.56H907.6M885.96 785.53V786.51H907.6M828.73 788.03V798.02H833.62M833.62 798.02V791.38H841.57M841.57 791.38V789.43H864.99M864.99 789.43V788.45H907.6M864.99 789.43V790.4H907.6M841.57 791.38V793.33H863.07M863.07 793.33V792.35H907.6M863.07 793.33V794.3H907.6M833.62 798.02V804.66H863.12M863.12 804.66V800.88H869.27M869.27 800.88V798.69H877.42M877.42 798.69V797.23H897.45M897.45 797.23V796.25H907.6M897.45 797.23V798.2H907.6M877.42 798.69V800.15H907.6M869.27 800.88V803.07H890.78M890.78 803.07V802.1H907.6M890.78 803.07V804.05H907.6M863.12 804.66V808.43H876.78M876.78 808.43V806.97H894.88M894.88 806.97V806H907.6M894.88 806.97V807.95H907.6M876.78 808.43V809.89H907.6M809.76 792.83V845.72H819.94M819.94 845.72V824.5H823.73M823.73 824.5V811.84H907.6M823.73 824.5V837.15H827.13M827.13 837.15V823.51H853.09M853.09 823.51V816.23H876.55M876.55 816.23V814.77H889.85M889.85 814.77V813.79H907.6M889.85 814.77V815.74H907.6M876.55 816.23V817.69H907.6M853.09 823.51V830.79H868.76M868.76 830.79V825.49H875M875 825.49V822.56H881M881 822.56V820.61H898.49M898.49 820.61V819.64H907.6M898.49 820.61V821.59H907.6M881 822.56V824.51H895.91M895.91 824.51V823.54H907.6M895.91 824.51V825.49H907.6M875 825.49V828.41H892.36M892.36 828.41V827.44H907.6M892.36 828.41V829.39H907.6M868.76 830.79V836.09H884.13M884.13 836.09V832.31H897.09M897.09 832.31V831.34H907.6M897.09 832.31V833.28H907.6M884.13 836.09V839.86H887.83M887.83 839.86V837.67H893.73M893.73 837.67V836.21H899.89M899.89 836.21V835.23H907.6M899.89 836.21V837.18H907.6M893.73 837.67V839.13H907.6M887.83 839.86V842.06H900.38M900.38 842.06V841.08H907.6M900.38 842.06V843.03H907.6M827.13 837.15V850.8H830.02M830.02 850.8V845.95H876.05M876.05 845.95V844.98H907.6M876.05 845.95V846.93H907.6M830.02 850.8V855.64H866.67M866.67 855.64V851.68H869.63M869.63 851.68V848.88H907.6M869.63 851.68V854.48H878.71M878.71 854.48V852.29H880.48M880.48 852.29V850.83H907.6M880.48 852.29V853.75H895.46M895.46 853.75V852.78H907.6M895.46 853.75V854.72H907.6M878.71 854.48V856.67H907.6M866.67 855.64V859.6H874.03M874.03 859.6V858.62H907.6M874.03 859.6V860.57H907.6M819.94 845.72V866.94H822.54M822.54 866.94V862.52H907.6M822.54 866.94V871.36H824.03M824.03 871.36V878.26H824.83M824.83 878.26V868.61H830.02M830.02 868.61V866.42H907.6M830.02 868.61V870.8H861.97M861.97 870.8V869.34H890.35M890.35 869.34V868.37H907.6M890.35 869.34V870.32H907.6M861.97 870.8V872.27H907.6M824.83 878.26V887.91H828.03M828.03 887.91V878.84H837.11M837.11 878.84V876.65H844.2M844.2 876.65V875.19H883.96M883.96 875.19V874.22H907.6M883.96 875.19V876.16H907.6M844.2 876.65V878.11H907.6M837.11 878.84V881.04H880.14M880.14 881.04V880.06H907.6M880.14 881.04V882.01H907.6M828.03 887.91V896.97H831.52M831.52 896.97V889.5H835.91M835.91 889.5V884.94H859.28M859.28 884.94V883.96H907.6M859.28 884.94V885.91H907.6M835.91 889.5V894.07H849.39M849.39 894.07V891.51H867.96M867.96 891.51V889.32H877.07M877.07 889.32V887.86H907.6M877.07 889.32V890.78H898.38M898.38 890.78V889.81H907.6M898.38 890.78V891.76H907.6M867.96 891.51V893.71H907.6M849.39 894.07V896.63H875.71M875.71 896.63V895.66H907.6M875.71 896.63V897.61H907.6M831.52 896.97V904.43H848.59M848.59 904.43V901.02H880.54M880.54 901.02V899.55H907.6M880.54 901.02V902.48H894.36M894.36 902.48V901.5H907.6M894.36 902.48V903.45H907.6M848.59 904.43V907.84H852.49M852.49 907.84V906.38H891.01M891.01 906.38V905.4H907.6M891.01 906.38V907.35H907.6M852.49 907.84V909.3H907.6"/>
<path stroke="#c0c0c0" d="M719.5 193.04V253.5H734.58M734.58 253.5V155.74H748.8M828.43 195.07V201.04H858.13"/>
<path stroke="#dcb46c" d="M748.8 155.74V167.46H752.3M752.3 167.46V159.13H771.72M752.3 167.46V175.79H760.14M760.14 175.79V185.87H773.51M773.51 185.87V197.5H792.38M792.38 197.5V212.72H799.07M799.07 212.72V194.98H803.67M803.67 194.98V204.75H812.65M812.65 204.75V195.07H828.43M812.65 204.75V214.44H824.43M799.07 212.72V230.47H825.53M825.53 230.47V234.8H835.22"/>
<path stroke="#ffa500" d="M790.74 161.81V162.79H907.6M773.51 185.87V174.24H799.27M799.27 174.24V171.07H814.65M814.65 171.07V169.61H831.26M831.26 169.61V168.63H907.6M831.26 169.61V170.58H907.6M814.65 171.07V172.53H907.6M799.27 174.24V177.4H810.36M810.36 177.4V175.46H829.23M829.23 175.46V174.48H907.6M829.23 175.46V176.43H907.6M810.36 177.4V179.35H829.72M829.72 179.35V178.38H907.6M829.72 179.35V180.33H907.6M792.38 197.5V182.28H907.6M828.43 195.07V189.1H844.4M844.4 189.1V188.12H907.6M844.4 189.1V190.07H907.6M858.13 201.04V195.68H866.86M866.86 195.68V193H892.15M892.15 193V192.02H907.6M892.15 193V193.97H907.6M866.86 195.68V198.36H878.76M878.76 198.36V196.9H896.08M896.08 196.9V195.92H907.6M891.47 208.59V209.56H907.6M835.22 234.8V230.03H846.9M846.9 230.03V229.06H907.6M846.9 230.03V231.01H907.6M843.4 239.58V233.93H849.89M849.89 233.93V232.95H907.6M849.89 233.93V234.9H907.6M865.01 237.83V238.8H907.6M835.42 302.15V303.12H907.6M840.51 606.88V600.97H850.59M850.59 600.97V603.53H866.63M866.63 603.53V605.72H878.45M878.45 605.72V604.26H898.54M898.54 604.26V605.24H907.6M878.45 605.72V607.19H907.6M849.19 612.79V610.11H889.5M889.5 610.11V609.14H907.6M889.5 610.11V611.08H907.6M891.57 614.01V614.98H907.6M824.03 871.36V864.47H907.6"/>
<path stroke="#a49dd2" d="M734.58 253.5V351.27H748.35M748.35 351.27V423.09H754.54M754.54 423.09V521.05H761.53M761.53 521.05V631.31H767.42"/>
<path stroke="#b2aec9" d="M754.54 423.09V325.14H762.83M762.83 325.14V309.52H780.5M780.5 309.52V302.15H835.42"/>
<path stroke="#e8af45" d="M767.42 631.31V606.88H840.51"/>
</g>
<circle cx="96.8" cy="192.4" r="9.1" fill="#7B68EE"/>
<path fill="#FFA500" d="M96.8 192.4L105.9 192.4A9.1 9.1 0 0 1 104.16 197.75Z"/>
<circle cx="397.3" cy="192.7" r="9.2" fill="#7B68EE"/>
<path fill="#FFA500" d="M397.3 192.7L406.5 192.7A9.2 9.2 0 0 1 405.1 197.58Z"/>
<circle cx="488.5" cy="212.3" r="9.2" fill="#FFA500"/>
<path fill="#7B68EE" d="M488.5 212.3L493.1 204.33A9.2 9.2 0 0 1 497.7 212.3Z"/>
<circle cx="440.25" cy="422.75" r="9.25" fill="#FFA500"/>
<circle cx="711.6" cy="192.2" r="9" fill="#7B68EE"/>
<path fill="#FFA500" d="M711.6 192.2L720.6 192.2A9 9 0 0 1 711.6 201.2Z"/>
<path stroke="#c8c8c8" stroke-width="1.4" filter="url(#mb)" d="M598 131.6H611M598 133.55H611M598 135.5H611M598 137.45H611M598 139.4H611M598 143.29H611M598 145.24H611M598 147.19H611M598 149.14H611M598 151.09H611M598 153.04H611M598 154.99H611M598 156.94H611M598 158.89H611M598 160.84H611M598 162.79H611M598 164.74H611M598 166.68H611M598 168.63H611M598 174.48H611M598 176.43H611M598 178.38H611M598 180.33H611M598 188.12H611M598 190.07H611M598 209.56H611M598 213.46H611M598 215.41H611M598 219.31H611M598 221.26H611M598 223.21H611M598 225.16H611M598 227.11H611M598 231.01H611M598 242.7H611M598 244.65H611M598 246.6H611M598 254.39H611M598 256.34H611M598 258.29H611M598 260.24H611M598 262.19H611M598 264.14H611M598 275.84H611M598 277.78H611M598 279.73H611M598 281.68H611M598 283.63H611M598 285.58H611M598 287.53H611M598 289.48H611M598 291.43H611M598 293.38H611M598 295.33H611M598 297.28H611M598 299.22H611M598 301.17H611M598 308.97H611M598 312.87H611M598 328.46H611M598 330.41H611M598 334.31H611M598 336.26H611M598 338.21H611M598 340.16H611M598 349.9H611M598 351.85H611M598 353.8H611M598 357.7H611M598 361.6H611M598 363.55H611M598 365.49H611M598 369.39H611M598 371.34H611M598 373.29H611M598 379.14H611M598 381.09H611M598 384.99H611M598 392.78H611M598 398.63H611M598 404.48H611M598 406.43H611M598 410.32H611M598 412.27H611M598 414.22H611M598 418.12H611M598 433.71H611M598 447.36H611M598 468.8H611M598 470.75H611M598 472.7H611M598 488.29H611M598 494.14H611M598 496.09H611M598 501.93H611M598 511.68H611M598 521.42H611M598 523.37H611M598 529.22H611M598 535.07H611M598 540.92H611M598 542.86H611M598 544.81H611M598 546.76H611M598 550.66H611M598 554.56H611M598 556.51H611M598 558.46H611M598 560.41H611M598 562.36H611M598 566.25H611M598 572.1H611M598 574.05H611M598 577.95H611M598 583.8H611M598 585.75H611M598 587.69H611M598 591.59H611M598 593.54H611M598 595.49H611M598 599.39H611M598 603.29H611M598 605.24H611M598 609.14H611M598 611.08H611M598 626.68H611M598 628.63H611M598 634.47H611M598 636.42H611M598 638.37H611M598 652.02H611M598 653.96H611M598 655.91H611M598 657.86H611M598 659.81H611M598 661.76H611M598 663.71H611M598 665.66H611M598 667.61H611M598 669.56H611M598 673.46H611M598 677.35H611M598 681.25H611M598 683.2H611M598 685.15H611M598 687.1H611M598 689.05H611M598 691H611M598 692.95H611M598 704.64H611M598 706.59H611M598 708.54H611M598 718.29H611M598 722.18H611M598 724.13H611M598 729.98H611M598 731.93H611M598 733.88H611M598 741.68H611M598 745.57H611M598 747.52H611M598 753.37H611M598 757.27H611M598 759.22H611M598 761.17H611M598 774.81H611M598 776.76H611M598 778.71H611M598 788.45H611M598 794.3H611M598 806H611M598 807.95H611M598 809.89H611M598 850.83H611M598 852.78H611M598 856.67H611M598 858.62H611M598 860.57H611M598 864.47H611M598 897.61H611M598 899.55H611M598 901.5H611M598 903.45H611"/>
<path stroke="#747474" stroke-width="1.5" filter="url(#mb)" d="M598 193.97H611M598 195.92H611M598 197.87H611M598 199.82H611M598 201.77H611M598 203.72H611M598 205.67H611M598 223.21H611M598 269.99H611M598 648.12H611M598 698.79H611M598 846.93H611M598 909.3H611"/>
<rect x="908.3" y="169" width="4.8" height="11.3" fill="#666"/>
<rect x="908.3" y="191.5" width="4.8" height="2.8" fill="#666"/>
<rect x="908.3" y="201" width="4.8" height="7" fill="#666"/>
<rect x="908.3" y="218.5" width="4.8" height="5" fill="#666"/>
<rect x="908.3" y="242" width="4.8" height="28" fill="#666"/>
<rect x="908.3" y="283.3" width="4.8" height="7.5" fill="#666"/>
<rect x="908.3" y="305.6" width="4.8" height="24.1" fill="#666"/>
<rect x="908.3" y="337.3" width="4.8" height="11.1" fill="#666"/>
<rect x="908.3" y="352.8" width="4.8" height="4.8" fill="#666"/>
<rect x="908.3" y="384" width="4.8" height="39.5" fill="#666"/>
<rect x="908.3" y="445.8" width="4.8" height="13.4" fill="#666"/>
<rect x="908.3" y="460.5" width="4.8" height="51.5" fill="#666"/>
<rect x="908.3" y="512.9" width="4.8" height="5.5" fill="#666"/>
<rect x="908.3" y="531.5" width="4.8" height="64" fill="#666"/>
<rect x="908.3" y="597" width="4.8" height="5.5" fill="#666"/>
<rect x="908.3" y="619.2" width="4.8" height="20.8" fill="#666"/>
<rect x="908.3" y="642.3" width="4.8" height="16.7" fill="#666"/>
<rect x="908.3" y="707.7" width="4.8" height="5.5" fill="#666"/>
<rect x="908.3" y="741" width="4.8" height="21" fill="#666"/>
<rect x="908.3" y="768.9" width="4.8" height="16.7" fill="#666"/>
<rect x="908.3" y="787.5" width="4.8" height="7.8" fill="#666"/>
<rect x="908.3" y="796.7" width="4.8" height="13.9" fill="#666"/>
<rect x="908.3" y="819.6" width="4.8" height="22.2" fill="#666"/>
<rect x="908.3" y="849.6" width="4.8" height="11.1" fill="#666"/>
<rect x="908.3" y="888.6" width="4.8" height="7.5" fill="#666"/>
<rect x="908.3" y="898.3" width="4.8" height="11.2" fill="#666"/>
<text x="923" y="180.6" font-size="16.6" font-style="italic" textLength="75.98" lengthAdjust="spacingAndGlyphs" fill="#1a1a1a">Platythyrea</text>
<text x="923" y="197.3" font-size="16.6" font-style="italic" textLength="78.53" lengthAdjust="spacingAndGlyphs" fill="#1a1a1a">Dinoponera</text>
<text x="923" y="211.8" font-size="16.6" font-style="italic" textLength="75.15" lengthAdjust="spacingAndGlyphs" fill="#1a1a1a">Neoponera</text>
<text x="923" y="227.1" font-size="16.6" font-style="italic" textLength="48.98" lengthAdjust="spacingAndGlyphs" fill="#1a1a1a">Ponera</text>
<text x="923" y="253.8" font-size="16.6" font-style="italic" textLength="103" lengthAdjust="spacingAndGlyphs" fill="#1a1a1a">Odontomachus</text>
<text x="923" y="270.3" font-size="16.6" font-style="italic" textLength="71.77" lengthAdjust="spacingAndGlyphs" fill="#1a1a1a">Anochetus</text>
<text x="923" y="292.8" font-size="16.6" font-style="italic" textLength="42.21" lengthAdjust="spacingAndGlyphs" fill="#1a1a1a">Eciton</text>
<text x="923" y="322.6" font-size="16.6" font-style="italic" textLength="105.51" lengthAdjust="spacingAndGlyphs" fill="#1a1a1a">Pseudomyrmex</text>
<text x="923" y="347.6" font-size="16.6" font-style="italic" textLength="66.14" lengthAdjust="spacingAndGlyphs" fill="#1a1a1a">Tapinoma</text>
<text x="923" y="364.3" font-size="16.6" font-style="italic" textLength="88.64" lengthAdjust="spacingAndGlyphs" fill="#1a1a1a">Dolichoderus</text>
<text x="923" y="395.7" font-size="16.6" font-style="italic" textLength="43.9" lengthAdjust="spacingAndGlyphs" fill="#1a1a1a">Lasius</text>
<text x="923" y="419.1" font-size="16.6" font-style="italic" textLength="105.49" lengthAdjust="spacingAndGlyphs" fill="#1a1a1a">Myrmecocystus</text>
<text x="923" y="456.7" font-size="16.6" font-style="italic" textLength="79.36" lengthAdjust="spacingAndGlyphs" fill="#1a1a1a">Cataglyphis</text>
<text x="923" y="492.3" font-size="16.6" font-style="italic" textLength="54.85" lengthAdjust="spacingAndGlyphs" fill="#1a1a1a">Formica</text>
<text x="923" y="520.1" font-size="16.6" font-style="italic" textLength="80.17" lengthAdjust="spacingAndGlyphs" fill="#1a1a1a">Myrmoteras</text>
<text x="923" y="567.4" font-size="16.6" font-style="italic" textLength="86.11" lengthAdjust="spacingAndGlyphs" fill="#1a1a1a">Camponotus</text>
<text x="923" y="605.6" font-size="16.6" font-style="italic" textLength="76.81" lengthAdjust="spacingAndGlyphs" fill="#1a1a1a">Ectatomma</text>
<text x="923" y="633.7" font-size="16.6" font-style="italic" textLength="57.37" lengthAdjust="spacingAndGlyphs" fill="#1a1a1a">Myrmica</text>
<text x="923" y="654.5" font-size="16.6" font-style="italic" textLength="106.36" lengthAdjust="spacingAndGlyphs" fill="#1a1a1a">Pogonomyrmex</text>
<text x="923" y="714.9" font-size="16.6" font-style="italic" textLength="74.3" lengthAdjust="spacingAndGlyphs" fill="#1a1a1a">Solenopsis</text>
<text x="923" y="746.9" font-size="16.6" font-style="italic" textLength="27.02" lengthAdjust="spacingAndGlyphs" fill="#1a1a1a">Atta</text>
<text x="923" y="761.7" font-size="16.6" font-style="italic" textLength="85.23" lengthAdjust="spacingAndGlyphs" fill="#1a1a1a">Acromyrmex</text>
<text x="923" y="780.3" font-size="16.6" font-style="italic" textLength="84.41" lengthAdjust="spacingAndGlyphs" fill="#1a1a1a">Strumigenys</text>
<text x="923" y="794.3" font-size="16.6" font-style="italic" textLength="76.84" lengthAdjust="spacingAndGlyphs" fill="#1a1a1a">Cephalotes</text>
<text x="923" y="809.5" font-size="16.6" font-style="italic" textLength="59.11" lengthAdjust="spacingAndGlyphs" fill="#1a1a1a">Pheidole</text>
<text x="923" y="834.6" font-size="16.6" font-style="italic" textLength="88.09" lengthAdjust="spacingAndGlyphs" fill="#1a1a1a">Temnothorax</text>
<text x="923" y="859.1" font-size="16.6" font-style="italic" textLength="84.68" lengthAdjust="spacingAndGlyphs" fill="#1a1a1a">Tetramorium</text>
<text x="923" y="894.7" font-size="16.6" font-style="italic" textLength="97.09" lengthAdjust="spacingAndGlyphs" fill="#1a1a1a">Cardiocondyla</text>
<text x="923" y="910.6" font-size="16.6" font-style="italic" textLength="100.45" lengthAdjust="spacingAndGlyphs" fill="#1a1a1a">Crematogaster</text>
<rect x="1036.6" y="132.2" width="15.9" height="1.9" fill="#ababab"/>
<text x="1055.8" y="134.2" font-size="16.5" font-weight="bold" textLength="92.78" lengthAdjust="spacingAndGlyphs">Leptanillinae</text>
<rect x="1036.6" y="135.8" width="15.9" height="16.7" fill="#ababab"/>
<text x="1055.8" y="151.6" font-size="16.5" font-weight="bold" textLength="96.18" lengthAdjust="spacingAndGlyphs">Proceratiinae</text>
<rect x="1036.6" y="153.9" width="15.9" height="10.3" fill="#ababab"/>
<text x="1055.8" y="164.2" font-size="16.5" font-weight="bold" textLength="113.85" lengthAdjust="spacingAndGlyphs">Amblyoponinae</text>
<rect x="1036.6" y="165" width="15.9" height="0.8" fill="#ababab"/>
<rect x="1036.6" y="166.6" width="15.9" height="0.8" fill="#ababab"/>
<rect x="1036.6" y="168.4" width="15.9" height="102.1" fill="#ababab"/>
<text x="1055.8" y="226.3" font-size="16.5" font-weight="bold" textLength="73.39" lengthAdjust="spacingAndGlyphs">Ponerinae</text>
<rect x="1036.6" y="272.2" width="15.9" height="28.4" fill="#ababab"/>
<text x="1055.8" y="290.9" font-size="16.5" font-weight="bold" textLength="69.17" lengthAdjust="spacingAndGlyphs">Dorylinae</text>
<rect x="1036.6" y="301.4" width="15.9" height="2.5" fill="#ababab"/>
<text x="1055.8" y="307.6" font-size="16.5" font-weight="bold" textLength="91.96" lengthAdjust="spacingAndGlyphs">Myrmeciinae</text>
<rect x="1036.6" y="305.3" width="15.9" height="23.6" fill="#ababab"/>
<text x="1055.8" y="322.3" font-size="16.5" font-weight="bold" textLength="143.42" lengthAdjust="spacingAndGlyphs">Pseudomyrmecinae</text>
<rect x="1036.6" y="330.6" width="15.9" height="0.8" fill="#ababab"/>
<rect x="1036.6" y="332" width="15.9" height="0.8" fill="#ababab"/>
<rect x="1036.6" y="333.9" width="15.9" height="44.5" fill="#ababab"/>
<text x="1055.8" y="361.8" font-size="16.5" font-weight="bold" textLength="109.65" lengthAdjust="spacingAndGlyphs">Dolichoderinae</text>
<rect x="1036.6" y="380.7" width="15.9" height="214.8" fill="#ababab"/>
<text x="1055.8" y="494" font-size="16.5" font-weight="bold" textLength="80.98" lengthAdjust="spacingAndGlyphs">Formicinae</text>
<rect x="1036.6" y="597.5" width="15.9" height="18.1" fill="#ababab"/>
<text x="1055.8" y="612.8" font-size="16.5" font-weight="bold" textLength="103.76" lengthAdjust="spacingAndGlyphs">Ectatomminae</text>
<rect x="1036.6" y="617.8" width="15.9" height="291.7" fill="#ababab"/>
<text x="1055.8" y="767.6" font-size="16.5" font-weight="bold" textLength="83.52" lengthAdjust="spacingAndGlyphs">Myrmicinae</text>
<defs><filter id="mb" filterUnits="userSpaceOnUse" x="590" y="120" width="30" height="800"><feGaussianBlur stdDeviation="0.45"/></filter></defs>
<defs><linearGradient id="lg" x1="0" x2="1" y1="0" y2="0"><stop offset="0" stop-color="#7B68EE"/><stop offset="0.5" stop-color="#C2C2C2"/><stop offset="1" stop-color="#FFA500"/></linearGradient></defs>
<text x="90.1" y="983.3" font-size="23.5" textLength="228.6" lengthAdjust="spacingAndGlyphs">Probability of the trait</text>
<rect x="126.7" y="997.2" width="138.1" height="24.8" fill="url(#lg)"/>
<text x="129.1" y="1048.7" font-size="25" text-anchor="middle" textLength="12.6" lengthAdjust="spacingAndGlyphs">0</text>
<text x="261" y="1048.7" font-size="25" text-anchor="middle" textLength="11" lengthAdjust="spacingAndGlyphs">1</text>
<rect x="386" y="964.7" width="20" height="19.2" fill="#cccccc"/>
<rect x="386" y="1031.3" width="20" height="18.7" fill="#808080"/>
<text x="424.7" y="978" font-size="23.3" textLength="86.6" lengthAdjust="spacingAndGlyphs">Imputed</text>
<text x="424.7" y="1034.8" font-size="23.3" textLength="240.8" lengthAdjust="spacingAndGlyphs">Imputed but prediction</text>
<text x="424.7" y="1066" font-size="23.3" textLength="199.4" lengthAdjust="spacingAndGlyphs">changed with ASR</text>
<text x="740" y="1001.3" font-size="28.5" font-weight="bold" textLength="20" lengthAdjust="spacingAndGlyphs">D</text>
<text x="852.5" y="992" font-size="17.3" textLength="58.2" lengthAdjust="spacingAndGlyphs" fill="#111">Worker</text>
<text x="828" y="1014.7" font-size="17.3" textLength="101.3" lengthAdjust="spacingAndGlyphs" fill="#111">reproductive</text>
<text x="841.3" y="1037.3" font-size="17.3" textLength="79.2" lengthAdjust="spacingAndGlyphs" fill="#111">autonomy</text>
<text x="756" y="1142.7" font-size="19" textLength="38.7" lengthAdjust="spacingAndGlyphs" fill="#111">Fully</text>
<text x="750.7" y="1164.5" font-size="19" textLength="48.8" lengthAdjust="spacingAndGlyphs" fill="#111">sterile</text>
<text x="967.5" y="1142.7" font-size="19" textLength="40.5" lengthAdjust="spacingAndGlyphs" fill="#111">Male</text>
<text x="961.3" y="1164.5" font-size="19" textLength="53.4" lengthAdjust="spacingAndGlyphs" fill="#111">laying</text>
<path fill="#9a9a9a" d="M774.53 1100.52L771.25 1096.88L807.07 1064.63L803.93 1061.14L828.93 1051.54Z"/>
<path fill="#9a9a9a" d="M830.67 1053.48L833.95 1057.12L798.13 1089.37L801.27 1092.86L776.27 1102.46Z"/>
<path fill="#9a9a9a" d="M845.9 1135.2L845.9 1130.4L895 1130.4L895 1125.6L919.5 1135.2Z"/>
<path fill="#9a9a9a" d="M919.5 1138.2L919.5 1143L870.4 1143L870.4 1147.8L845.9 1138.2Z"/>
<path fill="#6cc53a" d="M929.41 1049.57L932.94 1046.17L966.42 1080.84L969.8 1077.57L980.26 1102.22Z"/>
<path fill="#9a9a9a" d="M978.39 1104.03L974.86 1107.43L941.38 1072.76L938 1076.03L927.54 1051.38Z"/>
<path stroke="#9a9a9a" stroke-width="1" fill="none" d="M741.4 1068L763.6 1089.6M840 1064.5L861.6 1086.7M944.3 1136.2L965.6 1114M846.5 1088.7V1119.8M915.3 1158V1186"/>
<path stroke="#9a9a9a" stroke-width="1.6" fill="none" d="M846.6 1107V1119.8M915.3 1156V1170"/>
<path fill="#9a9a9a" d="M912.6 1154.7H917.6L915.6 1159.5Z"/>
<path fill="#a0a0a0" d="M949.89 1048.76L955.45 1050.79L959.49 1047.75L963.54 1046.74L967.58 1043.71L971.63 1041.18L975.67 1038.65L979.72 1036.12L983.76 1036.93L981.24 1040.17L979.72 1043.71L977.7 1047.25L975.67 1052.3L974.16 1056.35L971.63 1060.39L971.12 1063.43L973.15 1067.47L975.67 1071.72L972.64 1070.51L967.58 1066.46L962.53 1061.4L957.47 1056.35L953.43 1052.3Z"/>
<text x="802.1" y="1065.38" font-size="12.5" font-weight="bold" text-anchor="middle" transform="rotate(-42 802.1 1061)">1</text>
<text x="802.9" y="1097.88" font-size="12.5" font-weight="bold" text-anchor="middle" transform="rotate(138 802.9 1093.5)">1</text>
<text x="767.7" y="1100.38" font-size="12.5" font-weight="bold" text-anchor="middle" transform="rotate(-42 767.7 1096)">0</text>
<text x="837.4" y="1063.38" font-size="12.5" font-weight="bold" text-anchor="middle" transform="rotate(-42 837.4 1059)">0</text>
<text x="756" y="1065.88" font-size="12.5" font-weight="bold" text-anchor="middle" textLength="22.5" lengthAdjust="spacingAndGlyphs" transform="rotate(-42 756 1061.5)">0.03</text>
<text x="833" y="1081.88" font-size="12.5" font-weight="bold" text-anchor="middle" textLength="22.5" lengthAdjust="spacingAndGlyphs" transform="rotate(-42 833 1077.5)">0.06</text>
<text x="845.6" y="1129.67" font-size="12.5" font-weight="bold" text-anchor="middle" transform="rotate(0 845.6 1125.3)">0</text>
<text x="893.3" y="1129.67" font-size="12.5" font-weight="bold" text-anchor="middle" transform="rotate(0 893.3 1125.3)">1</text>
<text x="872.2" y="1153.38" font-size="12.5" font-weight="bold" text-anchor="middle" transform="rotate(180 872.2 1149)">1</text>
<text x="918.9" y="1153.08" font-size="12.5" font-weight="bold" text-anchor="middle" transform="rotate(0 918.9 1148.7)">0</text>
<text x="848.8" y="1106" font-size="12.8" font-weight="bold" textLength="22.9" lengthAdjust="spacingAndGlyphs">0.04</text>
<text x="890" y="1175.3" font-size="12.8" font-weight="bold" textLength="22.5" lengthAdjust="spacingAndGlyphs">0.38</text>
<text x="935.7" y="1047.58" font-size="12.5" font-weight="bold" text-anchor="middle" transform="rotate(46 935.7 1043.2)">0</text>
<text x="970.1" y="1081.67" font-size="12.5" font-weight="bold" text-anchor="middle" transform="rotate(46 970.1 1077.3)">1</text>
<text x="937.4" y="1081.67" font-size="12.5" font-weight="bold" text-anchor="middle" transform="rotate(226 937.4 1077.3)">1</text>
<text x="971.6" y="1116.38" font-size="12.5" font-weight="bold" text-anchor="middle" transform="rotate(46 971.6 1112)">0</text>
<text x="987.8" y="1063.78" font-size="12.5" font-weight="bold" text-anchor="middle" textLength="22.5" lengthAdjust="spacingAndGlyphs" transform="rotate(46 987.8 1059.4)">2.83</text>
<text x="946.3" y="1118.38" font-size="12.5" font-weight="bold" text-anchor="middle" textLength="22.5" lengthAdjust="spacingAndGlyphs" transform="rotate(46 946.3 1114)">0.07</text>
</g>
</svg>
</body></html>
